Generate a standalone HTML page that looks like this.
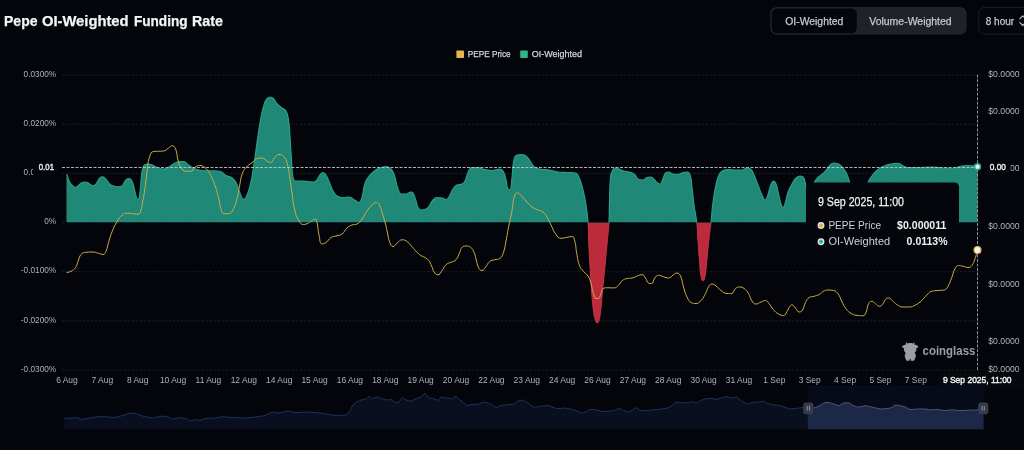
<!DOCTYPE html>
<html lang="en">
<head>
<meta charset="utf-8">
<title>Pepe OI-Weighted Funding Rate</title>
<style>
html,body{margin:0;padding:0;background:#03050a;}
body{width:1024px;height:450px;overflow:hidden;position:relative;font-family:"Liberation Sans",sans-serif;}
svg{position:absolute;left:0;top:0;display:block;will-change:transform;}
svg text{font-family:"Liberation Sans",sans-serif;white-space:pre;}
.ax text{font-size:9.5px;fill:#b0b3b8;}
.grid line{stroke:#1b1e24;stroke-width:1;stroke-dasharray:2.5 1.6;}
.med{stroke-width:0.25px;paint-order:stroke;}
.med4{stroke-width:0.45px;paint-order:stroke;}
</style>
</head>
<body>
<svg width="1024" height="450" viewBox="0 0 1024 450">
<defs>
<pattern id="dots" width="3" height="3" patternUnits="userSpaceOnUse">
<g fill="#2ca892" opacity="0.6"><circle cx="0.75" cy="0.75" r="0.5"/><circle cx="2.25" cy="2.25" r="0.5"/></g>
</pattern>
<clipPath id="pos"><rect x="0" y="0" width="1024" height="222.45"/></clipPath>
<clipPath id="neg"><rect x="587" y="222.45" width="23" height="120"/><rect x="695.5" y="222.45" width="16.5" height="80"/></clipPath>
</defs>

<!-- header -->
<text y="25.75" font-size="15" font-weight="700" fill="#f4f5f7" stroke="#f4f5f7" stroke-width="0.25"><tspan x="4.00" textLength="33.50" lengthAdjust="spacingAndGlyphs">Pepe</tspan> <tspan x="41.90" textLength="86.70" lengthAdjust="spacingAndGlyphs">OI-Weighted</tspan> <tspan x="133.90" textLength="53.70" lengthAdjust="spacingAndGlyphs">Funding</tspan> <tspan x="192.00" textLength="31.00" lengthAdjust="spacingAndGlyphs">Rate</tspan></text>
<rect x="770.25" y="6.9" width="196.4" height="27.85" rx="6.5" fill="#1f2229"/>
<rect x="771.75" y="8.4" width="85" height="24.85" rx="5.2" fill="#03050a"/>
<rect x="978.75" y="7.4" width="60" height="26.85" rx="6" fill="#04060b" stroke="#1e2128" stroke-width="1"/>
<text x="785.25" y="24.60" font-size="10.8" font-weight="400" fill="#c6c8cc" stroke="#c6c8cc" class="med" textLength="58.10" lengthAdjust="spacingAndGlyphs">OI-Weighted</text><text x="869.25" y="24.60" font-size="10.8" font-weight="400" fill="#c6c8cc" stroke="#c6c8cc" class="med" textLength="82.40" lengthAdjust="spacingAndGlyphs">Volume-Weighted</text><text x="985.75" y="24.60" font-size="10.8" font-weight="400" fill="#c6c8cc" stroke="#c6c8cc" class="med" textLength="28.40" lengthAdjust="spacingAndGlyphs">8 hour</text>
<path d="M1019.9 18.700L1022.800 15.800L1025.700 18.700M1019.900 22.600L1022.800 25.500L1025.700 22.600" fill="none" stroke="#b9bbc0" stroke-width="1.2" stroke-linecap="round" stroke-linejoin="round"/>

<!-- grid + axes -->
<g class="grid"><line x1="62" x2="981.5" y1="75.10" y2="75.10"/><line x1="62" x2="981.5" y1="124.25" y2="124.25"/><line x1="62" x2="981.5" y1="173.40" y2="173.40"/><line x1="62" x2="981.5" y1="271.70" y2="271.70"/><line x1="62" x2="981.5" y1="320.85" y2="320.85"/><line x1="62" x2="981.5" y1="370.00" y2="370.00"/><line x1="62" x2="66.3" y1="222.55" y2="222.55"/><line x1="978.5" x2="981.5" y1="222.55" y2="222.55"/></g>
<rect x="937.9" y="371.6" width="86.1" height="17.1" rx="2" fill="#06080d"/>
<g class="ax"><text transform="translate(56.20 76.85) scale(0.87 1)" text-anchor="end">0.0300%</text><text transform="translate(56.20 126.00) scale(0.87 1)" text-anchor="end">0.0200%</text><text transform="translate(56.20 175.15) scale(0.87 1)" text-anchor="end">0.0100%</text><text transform="translate(56.20 224.30) scale(0.87 1)" text-anchor="end">0%</text><text transform="translate(56.20 273.45) scale(0.87 1)" text-anchor="end">-0.0100%</text><text transform="translate(56.20 322.60) scale(0.87 1)" text-anchor="end">-0.0200%</text><text transform="translate(56.20 371.75) scale(0.87 1)" text-anchor="end">-0.0300%</text><text transform="translate(66.95 383.05) scale(0.89 1)" text-anchor="middle">6 Aug</text><text transform="translate(102.32 383.05) scale(0.89 1)" text-anchor="middle">7 Aug</text><text transform="translate(137.69 383.05) scale(0.89 1)" text-anchor="middle">8 Aug</text><text transform="translate(173.06 383.05) scale(0.89 1)" text-anchor="middle">10 Aug</text><text transform="translate(208.43 383.05) scale(0.89 1)" text-anchor="middle">11 Aug</text><text transform="translate(243.80 383.05) scale(0.89 1)" text-anchor="middle">12 Aug</text><text transform="translate(279.17 383.05) scale(0.89 1)" text-anchor="middle">14 Aug</text><text transform="translate(314.54 383.05) scale(0.89 1)" text-anchor="middle">15 Aug</text><text transform="translate(349.91 383.05) scale(0.89 1)" text-anchor="middle">16 Aug</text><text transform="translate(385.28 383.05) scale(0.89 1)" text-anchor="middle">18 Aug</text><text transform="translate(420.65 383.05) scale(0.89 1)" text-anchor="middle">19 Aug</text><text transform="translate(456.02 383.05) scale(0.89 1)" text-anchor="middle">20 Aug</text><text transform="translate(491.39 383.05) scale(0.89 1)" text-anchor="middle">22 Aug</text><text transform="translate(526.76 383.05) scale(0.89 1)" text-anchor="middle">23 Aug</text><text transform="translate(562.13 383.05) scale(0.89 1)" text-anchor="middle">24 Aug</text><text transform="translate(597.50 383.05) scale(0.89 1)" text-anchor="middle">26 Aug</text><text transform="translate(632.87 383.05) scale(0.89 1)" text-anchor="middle">27 Aug</text><text transform="translate(668.24 383.05) scale(0.89 1)" text-anchor="middle">28 Aug</text><text transform="translate(703.61 383.05) scale(0.89 1)" text-anchor="middle">30 Aug</text><text transform="translate(738.98 383.05) scale(0.89 1)" text-anchor="middle">31 Aug</text><text transform="translate(774.35 383.05) scale(0.89 1)" text-anchor="middle">1 Sep</text><text transform="translate(809.72 383.05) scale(0.89 1)" text-anchor="middle">3 Sep</text><text transform="translate(845.09 383.05) scale(0.89 1)" text-anchor="middle">4 Sep</text><text transform="translate(880.46 383.05) scale(0.89 1)" text-anchor="middle">5 Sep</text><text transform="translate(915.83 383.05) scale(0.89 1)" text-anchor="middle">7 Sep</text><text transform="translate(988.30 77.10) scale(0.912 1)">$0.0000</text><text transform="translate(988.30 113.70) scale(0.912 1)">$0.0000</text><text transform="translate(988.30 170.90) scale(0.912 1)">$0.0000</text><text transform="translate(988.30 229.45) scale(0.912 1)">$0.0000</text><text transform="translate(988.30 286.70) scale(0.912 1)">$0.0000</text><text transform="translate(988.30 344.10) scale(0.912 1)">$0.0000</text><text transform="translate(988.30 372.20) scale(0.912 1)">$0.0000</text></g>

<!-- funding area -->
<g clip-path="url(#pos)">
<path d="M66.50 174.60C66.50 174.60 67.05 174.90 67.25 175.40C68.35 178.10 67.87 178.35 69.10 181.00C70.04 183.03 70.03 183.19 71.60 184.75C73.18 186.32 73.48 187.25 75.40 187.25C76.93 187.25 77.03 186.43 78.50 185.40C80.13 184.26 79.89 183.83 81.60 182.90C83.01 182.13 83.17 182.00 84.75 182.00C86.33 182.00 86.44 182.20 87.90 182.90C89.57 183.70 89.35 184.16 91.00 185.00C92.15 185.59 92.34 185.75 93.50 185.75C94.84 185.75 95.07 185.22 96.00 184.10C97.57 182.22 97.11 181.83 98.50 179.75C99.31 178.53 99.27 178.36 100.40 177.50C101.15 176.93 101.34 176.90 102.25 176.90C103.51 176.90 103.74 177.07 104.75 177.90C106.24 179.12 106.00 179.45 107.25 181.00C108.50 182.55 108.23 182.88 109.75 184.10C111.35 185.38 111.51 185.40 113.50 186.00C115.89 186.72 116.00 186.75 118.50 186.75C120.05 186.75 120.42 186.75 121.60 186.40C123.22 185.92 122.88 184.67 124.10 182.90C125.08 181.47 124.80 181.18 126.00 180.00C127.00 179.03 127.22 178.60 128.50 178.60C129.72 178.60 130.13 178.78 131.00 179.75C132.33 181.23 132.24 181.52 132.90 183.50C134.11 187.14 133.79 187.26 134.75 191.00C135.64 194.46 135.43 194.56 136.60 197.90C137.00 199.06 137.27 200.00 137.90 200.00C138.52 200.00 138.85 199.07 139.10 197.90C140.10 193.32 139.89 193.22 140.40 188.50C141.14 181.64 140.77 181.59 141.60 174.75C142.02 171.29 141.87 171.18 142.90 167.90C143.44 166.18 143.38 165.37 144.75 164.75C146.18 164.10 146.65 164.10 148.50 164.10C150.73 164.10 150.77 164.57 152.90 165.40C155.14 166.27 154.98 166.71 157.25 167.50C160.28 168.56 160.42 169.10 163.50 169.10C166.05 169.10 166.13 168.44 168.50 167.25C171.13 165.94 170.89 165.47 173.50 164.10C176.19 162.69 176.20 161.98 179.10 161.70C181.20 161.50 181.53 161.50 183.50 161.50C186.23 161.50 185.94 163.35 188.50 165.00C191.56 166.97 191.39 167.46 194.75 168.75C198.89 170.34 199.07 170.75 203.50 170.75C208.44 170.75 208.51 170.75 213.50 170.75C216.63 170.75 216.92 170.75 219.75 171.25C223.17 171.85 222.69 173.71 226.00 175.50C228.94 177.09 229.58 176.13 232.25 178.00C234.58 179.63 234.67 179.93 236.00 182.50C238.42 187.18 237.57 187.64 239.75 192.50C241.32 196.01 241.26 199.25 243.50 199.25C244.39 199.25 245.36 198.84 246.00 197.50C248.76 191.71 248.70 191.39 250.30 185.00C252.45 176.39 252.07 176.28 253.50 167.50C254.92 158.78 254.75 158.75 256.00 150.00C257.25 141.25 257.16 141.24 258.50 132.50C259.66 124.99 259.51 124.95 261.00 117.50C262.26 111.20 262.05 111.09 264.00 105.00C265.05 101.72 264.92 101.31 267.00 98.75C268.17 97.31 268.78 97.00 270.50 97.00C272.03 97.00 272.32 97.53 273.50 98.75C275.57 100.90 274.95 101.52 277.00 103.75C279.20 106.15 279.45 105.94 282.00 108.00C283.95 109.57 284.87 108.91 286.00 111.00C288.12 114.91 287.81 115.40 288.50 120.00C289.81 128.65 289.34 128.74 290.00 137.50C290.84 148.74 290.66 148.76 291.50 160.00C292.16 168.76 291.50 169.07 293.00 177.50C293.37 179.57 293.66 181.00 295.50 181.00C298.91 181.00 299.51 181.00 303.50 181.00C307.76 181.00 307.78 182.00 312.00 182.00C314.03 182.00 314.54 182.00 316.00 181.00C318.54 179.25 317.73 177.76 320.00 175.00C321.23 173.51 321.50 172.50 323.00 172.50C324.50 172.50 325.01 173.37 326.00 175.00C328.51 179.12 328.06 179.47 330.00 184.00C331.06 186.47 330.65 186.69 332.00 189.00C334.15 192.69 333.89 193.53 337.00 196.00C338.89 197.50 339.44 197.50 342.00 197.50C345.69 197.50 345.98 197.00 349.50 197.00C352.23 197.00 351.98 198.54 354.50 200.00C356.73 201.29 357.24 202.50 359.00 202.50C360.99 202.50 361.14 200.25 362.00 197.50C363.89 191.50 362.68 191.06 364.50 185.00C365.68 181.06 365.63 180.82 368.00 177.50C370.63 173.82 370.90 173.77 374.50 171.00C377.40 168.77 377.60 168.83 381.00 167.50C383.35 166.58 383.61 166.50 386.00 166.50C388.61 166.50 389.23 167.02 391.00 169.00C393.48 171.77 393.21 172.32 394.50 176.00C396.71 182.32 395.59 182.81 398.00 189.00C399.09 191.81 399.20 194.00 401.50 194.00C403.20 194.00 403.84 194.00 406.00 194.00C408.59 194.00 408.53 192.00 411.00 192.00C412.03 192.00 412.48 192.07 413.00 193.00C414.98 196.57 414.61 196.96 416.00 201.00C417.11 204.21 416.41 204.64 418.00 207.50C418.91 209.14 419.27 210.00 421.00 210.00C423.27 210.00 423.84 210.00 426.00 209.00C428.09 208.03 427.99 207.44 429.50 205.50C431.49 202.94 430.82 202.32 433.00 200.00C434.57 198.32 434.82 197.50 437.00 197.50C439.32 197.50 439.57 197.50 442.00 198.00C444.07 198.43 444.26 199.50 446.00 199.50C448.01 199.50 448.14 198.03 449.50 196.00C451.64 192.78 450.82 192.19 453.00 189.00C454.57 186.69 454.63 186.11 457.00 185.00C459.13 184.00 459.82 185.00 462.00 184.00C463.82 183.17 464.04 182.84 465.00 181.00C467.04 177.09 465.95 176.45 468.00 172.50C469.45 169.70 469.47 167.50 472.00 167.50C473.97 167.50 474.55 167.50 477.00 167.50C480.80 167.50 480.70 168.74 484.50 169.50C488.20 170.24 488.27 170.50 492.00 170.50C495.77 170.50 495.90 169.00 499.50 169.00C501.40 169.00 502.03 169.36 503.00 171.00C505.28 174.86 504.73 175.44 506.00 180.00C507.23 184.44 506.37 186.76 508.00 189.00C508.37 189.50 509.71 189.50 510.00 189.50C511.71 189.50 511.18 183.53 512.00 177.50C513.18 168.78 512.12 168.45 514.00 160.00C514.62 157.20 514.85 155.58 517.00 155.00C518.85 154.50 519.63 154.50 522.00 154.50C524.63 154.50 524.97 155.20 527.00 157.00C529.47 159.20 528.96 159.78 531.00 162.50C532.71 164.78 532.31 165.33 534.50 167.00C536.56 168.58 536.88 168.48 539.50 169.00C544.38 169.98 544.55 169.20 549.50 170.00C553.80 170.70 553.69 171.56 558.00 172.00C562.94 172.50 563.00 172.21 568.00 172.50C571.75 172.71 572.37 172.50 575.50 173.00C577.87 173.38 577.86 174.93 579.00 177.50C581.61 183.43 581.38 183.65 583.00 190.00C584.88 197.40 584.84 197.45 586.00 205.00C587.34 213.67 587.34 213.70 588.00 222.45C588.69 231.70 588.27 231.73 588.70 241.00C589.27 253.50 589.28 253.50 590.00 266.00C590.73 278.50 590.64 278.51 591.60 291.00C592.29 300.01 592.16 300.04 593.30 309.00C594.01 314.54 593.80 314.71 595.30 320.00C595.77 321.66 596.25 322.90 597.25 322.90C598.10 322.90 598.64 321.91 599.00 320.50C600.47 314.71 600.18 314.53 600.90 308.50C601.93 299.78 601.66 299.75 602.50 291.00C603.71 278.50 603.80 278.50 605.00 266.00C606.20 253.50 606.15 253.50 607.30 241.00C608.15 231.73 608.53 231.74 609.00 222.45C609.50 212.49 609.17 212.47 609.50 202.50C609.92 190.00 609.50 189.86 610.50 177.50C610.83 173.36 611.15 173.02 613.00 169.50C613.65 168.27 614.17 168.00 615.50 168.00C618.67 168.00 618.67 169.51 622.00 170.50C625.42 171.51 625.58 171.00 629.00 172.00C631.58 172.75 631.90 172.42 634.00 174.00C636.90 176.17 636.08 178.58 639.00 179.50C640.58 180.00 641.16 180.00 643.00 180.00C645.16 180.00 644.86 178.17 647.00 177.50C648.61 177.00 648.92 177.00 650.50 177.00C652.42 177.00 652.37 178.11 654.00 179.50C655.87 181.11 655.56 181.54 657.50 183.00C658.56 183.79 659.09 184.00 660.00 184.00C661.59 184.00 661.45 182.10 662.50 180.00C664.20 176.60 663.38 175.41 665.50 173.00C666.38 172.00 667.03 172.00 668.50 172.00C670.78 172.00 670.65 173.51 673.00 174.00C675.40 174.50 675.59 174.50 678.00 174.50C680.59 174.50 680.43 173.17 683.00 172.50C684.93 172.00 685.29 172.00 687.00 172.00C688.79 172.00 689.37 173.05 690.00 175.00C691.87 180.80 691.16 181.23 692.00 187.50C693.16 196.23 692.81 196.28 694.00 205.00C695.19 213.75 695.78 213.68 696.75 222.45C697.78 231.68 697.34 231.73 698.00 241.00C698.71 251.00 698.64 251.01 699.50 261.00C700.14 268.51 699.71 268.63 701.00 276.00C701.46 278.63 702.00 281.00 703.00 281.00C704.00 281.00 704.53 278.63 705.00 276.00C706.53 267.38 706.07 267.26 707.00 258.50C708.07 248.51 707.89 248.49 709.00 238.50C709.89 230.46 710.11 230.49 711.00 222.45C712.11 212.49 711.67 212.43 713.00 202.50C714.17 193.71 714.11 193.66 716.00 185.00C717.11 179.91 716.78 179.60 719.00 175.00C720.28 172.35 720.56 171.68 723.00 170.50C725.06 169.50 725.47 169.50 728.00 169.50C731.72 169.50 731.75 170.00 735.50 170.00C738.75 170.00 738.86 170.00 742.00 170.00C744.61 170.00 744.46 168.00 747.00 168.00C748.71 168.00 749.30 168.00 750.50 169.00C752.80 170.91 752.53 171.86 754.00 175.00C756.28 179.86 756.00 180.00 758.00 185.00C760.00 190.00 759.73 190.13 762.00 195.00C763.23 197.63 763.48 200.00 765.00 200.00C766.23 200.00 766.64 198.18 767.50 196.00C769.39 191.18 768.58 190.81 770.50 186.00C771.58 183.31 771.85 181.00 773.50 181.00C774.60 181.00 775.31 182.21 776.00 184.00C777.81 188.71 777.25 189.00 778.50 194.00C779.75 199.00 779.38 199.15 781.00 204.00C781.63 205.90 782.00 207.50 783.00 207.50C784.00 207.50 784.37 205.90 785.00 204.00C786.87 198.40 786.05 198.09 788.00 192.50C789.55 188.09 789.74 188.10 792.00 184.00C793.74 180.85 793.47 180.38 796.00 178.00C797.72 176.38 798.27 176.00 800.50 176.00C802.02 176.00 802.67 176.18 803.50 177.50C805.17 180.18 804.49 180.75 805.50 184.00C806.74 188.00 806.08 192.00 808.00 192.00C808.83 192.00 810.04 191.45 811.00 190.00C813.17 186.70 812.27 186.04 814.25 182.50C815.77 179.79 815.81 179.69 818.00 177.50C820.81 174.69 821.44 175.31 824.25 172.50C827.06 169.69 826.48 169.10 829.25 166.25C831.10 164.35 831.14 163.00 833.50 163.00C835.51 163.00 836.03 163.00 838.00 163.75C840.53 164.71 840.54 165.36 842.50 167.50C844.54 169.73 844.67 169.78 846.00 172.50C848.04 176.66 847.86 176.80 849.25 181.25C851.36 188.05 850.37 188.46 853.00 195.00C854.74 199.33 855.38 203.00 858.00 203.00C860.38 203.00 861.13 199.83 863.00 196.00C866.13 189.58 865.10 189.06 868.00 182.50C869.47 179.18 869.54 179.12 871.75 176.25C874.54 172.62 874.43 172.29 878.00 169.50C881.30 166.92 881.57 167.01 885.50 165.50C889.07 164.13 889.22 164.43 893.00 163.75C895.47 163.31 895.63 163.25 898.00 163.25C900.63 163.25 900.43 164.66 903.00 165.75C905.43 166.78 905.40 167.50 908.00 167.50C912.90 167.50 913.00 167.50 918.00 167.50C924.25 167.50 924.26 167.00 930.50 167.00C936.76 167.00 936.74 167.69 943.00 168.00C947.99 168.25 948.07 168.25 953.00 168.25C956.82 168.25 956.69 166.95 960.50 166.25C964.19 165.57 964.25 165.50 968.00 165.50C972.75 165.50 977.50 166.25 977.50 166.25L977.50 222.45 L66.50 222.45 Z" fill="#1e8474"/>
<path d="M66.50 174.60C66.50 174.60 67.05 174.90 67.25 175.40C68.35 178.10 67.87 178.35 69.10 181.00C70.04 183.03 70.03 183.19 71.60 184.75C73.18 186.32 73.48 187.25 75.40 187.25C76.93 187.25 77.03 186.43 78.50 185.40C80.13 184.26 79.89 183.83 81.60 182.90C83.01 182.13 83.17 182.00 84.75 182.00C86.33 182.00 86.44 182.20 87.90 182.90C89.57 183.70 89.35 184.16 91.00 185.00C92.15 185.59 92.34 185.75 93.50 185.75C94.84 185.75 95.07 185.22 96.00 184.10C97.57 182.22 97.11 181.83 98.50 179.75C99.31 178.53 99.27 178.36 100.40 177.50C101.15 176.93 101.34 176.90 102.25 176.90C103.51 176.90 103.74 177.07 104.75 177.90C106.24 179.12 106.00 179.45 107.25 181.00C108.50 182.55 108.23 182.88 109.75 184.10C111.35 185.38 111.51 185.40 113.50 186.00C115.89 186.72 116.00 186.75 118.50 186.75C120.05 186.75 120.42 186.75 121.60 186.40C123.22 185.92 122.88 184.67 124.10 182.90C125.08 181.47 124.80 181.18 126.00 180.00C127.00 179.03 127.22 178.60 128.50 178.60C129.72 178.60 130.13 178.78 131.00 179.75C132.33 181.23 132.24 181.52 132.90 183.50C134.11 187.14 133.79 187.26 134.75 191.00C135.64 194.46 135.43 194.56 136.60 197.90C137.00 199.06 137.27 200.00 137.90 200.00C138.52 200.00 138.85 199.07 139.10 197.90C140.10 193.32 139.89 193.22 140.40 188.50C141.14 181.64 140.77 181.59 141.60 174.75C142.02 171.29 141.87 171.18 142.90 167.90C143.44 166.18 143.38 165.37 144.75 164.75C146.18 164.10 146.65 164.10 148.50 164.10C150.73 164.10 150.77 164.57 152.90 165.40C155.14 166.27 154.98 166.71 157.25 167.50C160.28 168.56 160.42 169.10 163.50 169.10C166.05 169.10 166.13 168.44 168.50 167.25C171.13 165.94 170.89 165.47 173.50 164.10C176.19 162.69 176.20 161.98 179.10 161.70C181.20 161.50 181.53 161.50 183.50 161.50C186.23 161.50 185.94 163.35 188.50 165.00C191.56 166.97 191.39 167.46 194.75 168.75C198.89 170.34 199.07 170.75 203.50 170.75C208.44 170.75 208.51 170.75 213.50 170.75C216.63 170.75 216.92 170.75 219.75 171.25C223.17 171.85 222.69 173.71 226.00 175.50C228.94 177.09 229.58 176.13 232.25 178.00C234.58 179.63 234.67 179.93 236.00 182.50C238.42 187.18 237.57 187.64 239.75 192.50C241.32 196.01 241.26 199.25 243.50 199.25C244.39 199.25 245.36 198.84 246.00 197.50C248.76 191.71 248.70 191.39 250.30 185.00C252.45 176.39 252.07 176.28 253.50 167.50C254.92 158.78 254.75 158.75 256.00 150.00C257.25 141.25 257.16 141.24 258.50 132.50C259.66 124.99 259.51 124.95 261.00 117.50C262.26 111.20 262.05 111.09 264.00 105.00C265.05 101.72 264.92 101.31 267.00 98.75C268.17 97.31 268.78 97.00 270.50 97.00C272.03 97.00 272.32 97.53 273.50 98.75C275.57 100.90 274.95 101.52 277.00 103.75C279.20 106.15 279.45 105.94 282.00 108.00C283.95 109.57 284.87 108.91 286.00 111.00C288.12 114.91 287.81 115.40 288.50 120.00C289.81 128.65 289.34 128.74 290.00 137.50C290.84 148.74 290.66 148.76 291.50 160.00C292.16 168.76 291.50 169.07 293.00 177.50C293.37 179.57 293.66 181.00 295.50 181.00C298.91 181.00 299.51 181.00 303.50 181.00C307.76 181.00 307.78 182.00 312.00 182.00C314.03 182.00 314.54 182.00 316.00 181.00C318.54 179.25 317.73 177.76 320.00 175.00C321.23 173.51 321.50 172.50 323.00 172.50C324.50 172.50 325.01 173.37 326.00 175.00C328.51 179.12 328.06 179.47 330.00 184.00C331.06 186.47 330.65 186.69 332.00 189.00C334.15 192.69 333.89 193.53 337.00 196.00C338.89 197.50 339.44 197.50 342.00 197.50C345.69 197.50 345.98 197.00 349.50 197.00C352.23 197.00 351.98 198.54 354.50 200.00C356.73 201.29 357.24 202.50 359.00 202.50C360.99 202.50 361.14 200.25 362.00 197.50C363.89 191.50 362.68 191.06 364.50 185.00C365.68 181.06 365.63 180.82 368.00 177.50C370.63 173.82 370.90 173.77 374.50 171.00C377.40 168.77 377.60 168.83 381.00 167.50C383.35 166.58 383.61 166.50 386.00 166.50C388.61 166.50 389.23 167.02 391.00 169.00C393.48 171.77 393.21 172.32 394.50 176.00C396.71 182.32 395.59 182.81 398.00 189.00C399.09 191.81 399.20 194.00 401.50 194.00C403.20 194.00 403.84 194.00 406.00 194.00C408.59 194.00 408.53 192.00 411.00 192.00C412.03 192.00 412.48 192.07 413.00 193.00C414.98 196.57 414.61 196.96 416.00 201.00C417.11 204.21 416.41 204.64 418.00 207.50C418.91 209.14 419.27 210.00 421.00 210.00C423.27 210.00 423.84 210.00 426.00 209.00C428.09 208.03 427.99 207.44 429.50 205.50C431.49 202.94 430.82 202.32 433.00 200.00C434.57 198.32 434.82 197.50 437.00 197.50C439.32 197.50 439.57 197.50 442.00 198.00C444.07 198.43 444.26 199.50 446.00 199.50C448.01 199.50 448.14 198.03 449.50 196.00C451.64 192.78 450.82 192.19 453.00 189.00C454.57 186.69 454.63 186.11 457.00 185.00C459.13 184.00 459.82 185.00 462.00 184.00C463.82 183.17 464.04 182.84 465.00 181.00C467.04 177.09 465.95 176.45 468.00 172.50C469.45 169.70 469.47 167.50 472.00 167.50C473.97 167.50 474.55 167.50 477.00 167.50C480.80 167.50 480.70 168.74 484.50 169.50C488.20 170.24 488.27 170.50 492.00 170.50C495.77 170.50 495.90 169.00 499.50 169.00C501.40 169.00 502.03 169.36 503.00 171.00C505.28 174.86 504.73 175.44 506.00 180.00C507.23 184.44 506.37 186.76 508.00 189.00C508.37 189.50 509.71 189.50 510.00 189.50C511.71 189.50 511.18 183.53 512.00 177.50C513.18 168.78 512.12 168.45 514.00 160.00C514.62 157.20 514.85 155.58 517.00 155.00C518.85 154.50 519.63 154.50 522.00 154.50C524.63 154.50 524.97 155.20 527.00 157.00C529.47 159.20 528.96 159.78 531.00 162.50C532.71 164.78 532.31 165.33 534.50 167.00C536.56 168.58 536.88 168.48 539.50 169.00C544.38 169.98 544.55 169.20 549.50 170.00C553.80 170.70 553.69 171.56 558.00 172.00C562.94 172.50 563.00 172.21 568.00 172.50C571.75 172.71 572.37 172.50 575.50 173.00C577.87 173.38 577.86 174.93 579.00 177.50C581.61 183.43 581.38 183.65 583.00 190.00C584.88 197.40 584.84 197.45 586.00 205.00C587.34 213.67 587.34 213.70 588.00 222.45C588.69 231.70 588.27 231.73 588.70 241.00C589.27 253.50 589.28 253.50 590.00 266.00C590.73 278.50 590.64 278.51 591.60 291.00C592.29 300.01 592.16 300.04 593.30 309.00C594.01 314.54 593.80 314.71 595.30 320.00C595.77 321.66 596.25 322.90 597.25 322.90C598.10 322.90 598.64 321.91 599.00 320.50C600.47 314.71 600.18 314.53 600.90 308.50C601.93 299.78 601.66 299.75 602.50 291.00C603.71 278.50 603.80 278.50 605.00 266.00C606.20 253.50 606.15 253.50 607.30 241.00C608.15 231.73 608.53 231.74 609.00 222.45C609.50 212.49 609.17 212.47 609.50 202.50C609.92 190.00 609.50 189.86 610.50 177.50C610.83 173.36 611.15 173.02 613.00 169.50C613.65 168.27 614.17 168.00 615.50 168.00C618.67 168.00 618.67 169.51 622.00 170.50C625.42 171.51 625.58 171.00 629.00 172.00C631.58 172.75 631.90 172.42 634.00 174.00C636.90 176.17 636.08 178.58 639.00 179.50C640.58 180.00 641.16 180.00 643.00 180.00C645.16 180.00 644.86 178.17 647.00 177.50C648.61 177.00 648.92 177.00 650.50 177.00C652.42 177.00 652.37 178.11 654.00 179.50C655.87 181.11 655.56 181.54 657.50 183.00C658.56 183.79 659.09 184.00 660.00 184.00C661.59 184.00 661.45 182.10 662.50 180.00C664.20 176.60 663.38 175.41 665.50 173.00C666.38 172.00 667.03 172.00 668.50 172.00C670.78 172.00 670.65 173.51 673.00 174.00C675.40 174.50 675.59 174.50 678.00 174.50C680.59 174.50 680.43 173.17 683.00 172.50C684.93 172.00 685.29 172.00 687.00 172.00C688.79 172.00 689.37 173.05 690.00 175.00C691.87 180.80 691.16 181.23 692.00 187.50C693.16 196.23 692.81 196.28 694.00 205.00C695.19 213.75 695.78 213.68 696.75 222.45C697.78 231.68 697.34 231.73 698.00 241.00C698.71 251.00 698.64 251.01 699.50 261.00C700.14 268.51 699.71 268.63 701.00 276.00C701.46 278.63 702.00 281.00 703.00 281.00C704.00 281.00 704.53 278.63 705.00 276.00C706.53 267.38 706.07 267.26 707.00 258.50C708.07 248.51 707.89 248.49 709.00 238.50C709.89 230.46 710.11 230.49 711.00 222.45C712.11 212.49 711.67 212.43 713.00 202.50C714.17 193.71 714.11 193.66 716.00 185.00C717.11 179.91 716.78 179.60 719.00 175.00C720.28 172.35 720.56 171.68 723.00 170.50C725.06 169.50 725.47 169.50 728.00 169.50C731.72 169.50 731.75 170.00 735.50 170.00C738.75 170.00 738.86 170.00 742.00 170.00C744.61 170.00 744.46 168.00 747.00 168.00C748.71 168.00 749.30 168.00 750.50 169.00C752.80 170.91 752.53 171.86 754.00 175.00C756.28 179.86 756.00 180.00 758.00 185.00C760.00 190.00 759.73 190.13 762.00 195.00C763.23 197.63 763.48 200.00 765.00 200.00C766.23 200.00 766.64 198.18 767.50 196.00C769.39 191.18 768.58 190.81 770.50 186.00C771.58 183.31 771.85 181.00 773.50 181.00C774.60 181.00 775.31 182.21 776.00 184.00C777.81 188.71 777.25 189.00 778.50 194.00C779.75 199.00 779.38 199.15 781.00 204.00C781.63 205.90 782.00 207.50 783.00 207.50C784.00 207.50 784.37 205.90 785.00 204.00C786.87 198.40 786.05 198.09 788.00 192.50C789.55 188.09 789.74 188.10 792.00 184.00C793.74 180.85 793.47 180.38 796.00 178.00C797.72 176.38 798.27 176.00 800.50 176.00C802.02 176.00 802.67 176.18 803.50 177.50C805.17 180.18 804.49 180.75 805.50 184.00C806.74 188.00 806.08 192.00 808.00 192.00C808.83 192.00 810.04 191.45 811.00 190.00C813.17 186.70 812.27 186.04 814.25 182.50C815.77 179.79 815.81 179.69 818.00 177.50C820.81 174.69 821.44 175.31 824.25 172.50C827.06 169.69 826.48 169.10 829.25 166.25C831.10 164.35 831.14 163.00 833.50 163.00C835.51 163.00 836.03 163.00 838.00 163.75C840.53 164.71 840.54 165.36 842.50 167.50C844.54 169.73 844.67 169.78 846.00 172.50C848.04 176.66 847.86 176.80 849.25 181.25C851.36 188.05 850.37 188.46 853.00 195.00C854.74 199.33 855.38 203.00 858.00 203.00C860.38 203.00 861.13 199.83 863.00 196.00C866.13 189.58 865.10 189.06 868.00 182.50C869.47 179.18 869.54 179.12 871.75 176.25C874.54 172.62 874.43 172.29 878.00 169.50C881.30 166.92 881.57 167.01 885.50 165.50C889.07 164.13 889.22 164.43 893.00 163.75C895.47 163.31 895.63 163.25 898.00 163.25C900.63 163.25 900.43 164.66 903.00 165.75C905.43 166.78 905.40 167.50 908.00 167.50C912.90 167.50 913.00 167.50 918.00 167.50C924.25 167.50 924.26 167.00 930.50 167.00C936.76 167.00 936.74 167.69 943.00 168.00C947.99 168.25 948.07 168.25 953.00 168.25C956.82 168.25 956.69 166.95 960.50 166.25C964.19 165.57 964.25 165.50 968.00 165.50C972.75 165.50 977.50 166.25 977.50 166.25L977.50 222.45 L66.50 222.45 Z" fill="url(#dots)"/>
<path d="M66.50 174.60C66.50 174.60 67.05 174.90 67.25 175.40C68.35 178.10 67.87 178.35 69.10 181.00C70.04 183.03 70.03 183.19 71.60 184.75C73.18 186.32 73.48 187.25 75.40 187.25C76.93 187.25 77.03 186.43 78.50 185.40C80.13 184.26 79.89 183.83 81.60 182.90C83.01 182.13 83.17 182.00 84.75 182.00C86.33 182.00 86.44 182.20 87.90 182.90C89.57 183.70 89.35 184.16 91.00 185.00C92.15 185.59 92.34 185.75 93.50 185.75C94.84 185.75 95.07 185.22 96.00 184.10C97.57 182.22 97.11 181.83 98.50 179.75C99.31 178.53 99.27 178.36 100.40 177.50C101.15 176.93 101.34 176.90 102.25 176.90C103.51 176.90 103.74 177.07 104.75 177.90C106.24 179.12 106.00 179.45 107.25 181.00C108.50 182.55 108.23 182.88 109.75 184.10C111.35 185.38 111.51 185.40 113.50 186.00C115.89 186.72 116.00 186.75 118.50 186.75C120.05 186.75 120.42 186.75 121.60 186.40C123.22 185.92 122.88 184.67 124.10 182.90C125.08 181.47 124.80 181.18 126.00 180.00C127.00 179.03 127.22 178.60 128.50 178.60C129.72 178.60 130.13 178.78 131.00 179.75C132.33 181.23 132.24 181.52 132.90 183.50C134.11 187.14 133.79 187.26 134.75 191.00C135.64 194.46 135.43 194.56 136.60 197.90C137.00 199.06 137.27 200.00 137.90 200.00C138.52 200.00 138.85 199.07 139.10 197.90C140.10 193.32 139.89 193.22 140.40 188.50C141.14 181.64 140.77 181.59 141.60 174.75C142.02 171.29 141.87 171.18 142.90 167.90C143.44 166.18 143.38 165.37 144.75 164.75C146.18 164.10 146.65 164.10 148.50 164.10C150.73 164.10 150.77 164.57 152.90 165.40C155.14 166.27 154.98 166.71 157.25 167.50C160.28 168.56 160.42 169.10 163.50 169.10C166.05 169.10 166.13 168.44 168.50 167.25C171.13 165.94 170.89 165.47 173.50 164.10C176.19 162.69 176.20 161.98 179.10 161.70C181.20 161.50 181.53 161.50 183.50 161.50C186.23 161.50 185.94 163.35 188.50 165.00C191.56 166.97 191.39 167.46 194.75 168.75C198.89 170.34 199.07 170.75 203.50 170.75C208.44 170.75 208.51 170.75 213.50 170.75C216.63 170.75 216.92 170.75 219.75 171.25C223.17 171.85 222.69 173.71 226.00 175.50C228.94 177.09 229.58 176.13 232.25 178.00C234.58 179.63 234.67 179.93 236.00 182.50C238.42 187.18 237.57 187.64 239.75 192.50C241.32 196.01 241.26 199.25 243.50 199.25C244.39 199.25 245.36 198.84 246.00 197.50C248.76 191.71 248.70 191.39 250.30 185.00C252.45 176.39 252.07 176.28 253.50 167.50C254.92 158.78 254.75 158.75 256.00 150.00C257.25 141.25 257.16 141.24 258.50 132.50C259.66 124.99 259.51 124.95 261.00 117.50C262.26 111.20 262.05 111.09 264.00 105.00C265.05 101.72 264.92 101.31 267.00 98.75C268.17 97.31 268.78 97.00 270.50 97.00C272.03 97.00 272.32 97.53 273.50 98.75C275.57 100.90 274.95 101.52 277.00 103.75C279.20 106.15 279.45 105.94 282.00 108.00C283.95 109.57 284.87 108.91 286.00 111.00C288.12 114.91 287.81 115.40 288.50 120.00C289.81 128.65 289.34 128.74 290.00 137.50C290.84 148.74 290.66 148.76 291.50 160.00C292.16 168.76 291.50 169.07 293.00 177.50C293.37 179.57 293.66 181.00 295.50 181.00C298.91 181.00 299.51 181.00 303.50 181.00C307.76 181.00 307.78 182.00 312.00 182.00C314.03 182.00 314.54 182.00 316.00 181.00C318.54 179.25 317.73 177.76 320.00 175.00C321.23 173.51 321.50 172.50 323.00 172.50C324.50 172.50 325.01 173.37 326.00 175.00C328.51 179.12 328.06 179.47 330.00 184.00C331.06 186.47 330.65 186.69 332.00 189.00C334.15 192.69 333.89 193.53 337.00 196.00C338.89 197.50 339.44 197.50 342.00 197.50C345.69 197.50 345.98 197.00 349.50 197.00C352.23 197.00 351.98 198.54 354.50 200.00C356.73 201.29 357.24 202.50 359.00 202.50C360.99 202.50 361.14 200.25 362.00 197.50C363.89 191.50 362.68 191.06 364.50 185.00C365.68 181.06 365.63 180.82 368.00 177.50C370.63 173.82 370.90 173.77 374.50 171.00C377.40 168.77 377.60 168.83 381.00 167.50C383.35 166.58 383.61 166.50 386.00 166.50C388.61 166.50 389.23 167.02 391.00 169.00C393.48 171.77 393.21 172.32 394.50 176.00C396.71 182.32 395.59 182.81 398.00 189.00C399.09 191.81 399.20 194.00 401.50 194.00C403.20 194.00 403.84 194.00 406.00 194.00C408.59 194.00 408.53 192.00 411.00 192.00C412.03 192.00 412.48 192.07 413.00 193.00C414.98 196.57 414.61 196.96 416.00 201.00C417.11 204.21 416.41 204.64 418.00 207.50C418.91 209.14 419.27 210.00 421.00 210.00C423.27 210.00 423.84 210.00 426.00 209.00C428.09 208.03 427.99 207.44 429.50 205.50C431.49 202.94 430.82 202.32 433.00 200.00C434.57 198.32 434.82 197.50 437.00 197.50C439.32 197.50 439.57 197.50 442.00 198.00C444.07 198.43 444.26 199.50 446.00 199.50C448.01 199.50 448.14 198.03 449.50 196.00C451.64 192.78 450.82 192.19 453.00 189.00C454.57 186.69 454.63 186.11 457.00 185.00C459.13 184.00 459.82 185.00 462.00 184.00C463.82 183.17 464.04 182.84 465.00 181.00C467.04 177.09 465.95 176.45 468.00 172.50C469.45 169.70 469.47 167.50 472.00 167.50C473.97 167.50 474.55 167.50 477.00 167.50C480.80 167.50 480.70 168.74 484.50 169.50C488.20 170.24 488.27 170.50 492.00 170.50C495.77 170.50 495.90 169.00 499.50 169.00C501.40 169.00 502.03 169.36 503.00 171.00C505.28 174.86 504.73 175.44 506.00 180.00C507.23 184.44 506.37 186.76 508.00 189.00C508.37 189.50 509.71 189.50 510.00 189.50C511.71 189.50 511.18 183.53 512.00 177.50C513.18 168.78 512.12 168.45 514.00 160.00C514.62 157.20 514.85 155.58 517.00 155.00C518.85 154.50 519.63 154.50 522.00 154.50C524.63 154.50 524.97 155.20 527.00 157.00C529.47 159.20 528.96 159.78 531.00 162.50C532.71 164.78 532.31 165.33 534.50 167.00C536.56 168.58 536.88 168.48 539.50 169.00C544.38 169.98 544.55 169.20 549.50 170.00C553.80 170.70 553.69 171.56 558.00 172.00C562.94 172.50 563.00 172.21 568.00 172.50C571.75 172.71 572.37 172.50 575.50 173.00C577.87 173.38 577.86 174.93 579.00 177.50C581.61 183.43 581.38 183.65 583.00 190.00C584.88 197.40 584.84 197.45 586.00 205.00C587.34 213.67 587.34 213.70 588.00 222.45C588.69 231.70 588.27 231.73 588.70 241.00C589.27 253.50 589.28 253.50 590.00 266.00C590.73 278.50 590.64 278.51 591.60 291.00C592.29 300.01 592.16 300.04 593.30 309.00C594.01 314.54 593.80 314.71 595.30 320.00C595.77 321.66 596.25 322.90 597.25 322.90C598.10 322.90 598.64 321.91 599.00 320.50C600.47 314.71 600.18 314.53 600.90 308.50C601.93 299.78 601.66 299.75 602.50 291.00C603.71 278.50 603.80 278.50 605.00 266.00C606.20 253.50 606.15 253.50 607.30 241.00C608.15 231.73 608.53 231.74 609.00 222.45C609.50 212.49 609.17 212.47 609.50 202.50C609.92 190.00 609.50 189.86 610.50 177.50C610.83 173.36 611.15 173.02 613.00 169.50C613.65 168.27 614.17 168.00 615.50 168.00C618.67 168.00 618.67 169.51 622.00 170.50C625.42 171.51 625.58 171.00 629.00 172.00C631.58 172.75 631.90 172.42 634.00 174.00C636.90 176.17 636.08 178.58 639.00 179.50C640.58 180.00 641.16 180.00 643.00 180.00C645.16 180.00 644.86 178.17 647.00 177.50C648.61 177.00 648.92 177.00 650.50 177.00C652.42 177.00 652.37 178.11 654.00 179.50C655.87 181.11 655.56 181.54 657.50 183.00C658.56 183.79 659.09 184.00 660.00 184.00C661.59 184.00 661.45 182.10 662.50 180.00C664.20 176.60 663.38 175.41 665.50 173.00C666.38 172.00 667.03 172.00 668.50 172.00C670.78 172.00 670.65 173.51 673.00 174.00C675.40 174.50 675.59 174.50 678.00 174.50C680.59 174.50 680.43 173.17 683.00 172.50C684.93 172.00 685.29 172.00 687.00 172.00C688.79 172.00 689.37 173.05 690.00 175.00C691.87 180.80 691.16 181.23 692.00 187.50C693.16 196.23 692.81 196.28 694.00 205.00C695.19 213.75 695.78 213.68 696.75 222.45C697.78 231.68 697.34 231.73 698.00 241.00C698.71 251.00 698.64 251.01 699.50 261.00C700.14 268.51 699.71 268.63 701.00 276.00C701.46 278.63 702.00 281.00 703.00 281.00C704.00 281.00 704.53 278.63 705.00 276.00C706.53 267.38 706.07 267.26 707.00 258.50C708.07 248.51 707.89 248.49 709.00 238.50C709.89 230.46 710.11 230.49 711.00 222.45C712.11 212.49 711.67 212.43 713.00 202.50C714.17 193.71 714.11 193.66 716.00 185.00C717.11 179.91 716.78 179.60 719.00 175.00C720.28 172.35 720.56 171.68 723.00 170.50C725.06 169.50 725.47 169.50 728.00 169.50C731.72 169.50 731.75 170.00 735.50 170.00C738.75 170.00 738.86 170.00 742.00 170.00C744.61 170.00 744.46 168.00 747.00 168.00C748.71 168.00 749.30 168.00 750.50 169.00C752.80 170.91 752.53 171.86 754.00 175.00C756.28 179.86 756.00 180.00 758.00 185.00C760.00 190.00 759.73 190.13 762.00 195.00C763.23 197.63 763.48 200.00 765.00 200.00C766.23 200.00 766.64 198.18 767.50 196.00C769.39 191.18 768.58 190.81 770.50 186.00C771.58 183.31 771.85 181.00 773.50 181.00C774.60 181.00 775.31 182.21 776.00 184.00C777.81 188.71 777.25 189.00 778.50 194.00C779.75 199.00 779.38 199.15 781.00 204.00C781.63 205.90 782.00 207.50 783.00 207.50C784.00 207.50 784.37 205.90 785.00 204.00C786.87 198.40 786.05 198.09 788.00 192.50C789.55 188.09 789.74 188.10 792.00 184.00C793.74 180.85 793.47 180.38 796.00 178.00C797.72 176.38 798.27 176.00 800.50 176.00C802.02 176.00 802.67 176.18 803.50 177.50C805.17 180.18 804.49 180.75 805.50 184.00C806.74 188.00 806.08 192.00 808.00 192.00C808.83 192.00 810.04 191.45 811.00 190.00C813.17 186.70 812.27 186.04 814.25 182.50C815.77 179.79 815.81 179.69 818.00 177.50C820.81 174.69 821.44 175.31 824.25 172.50C827.06 169.69 826.48 169.10 829.25 166.25C831.10 164.35 831.14 163.00 833.50 163.00C835.51 163.00 836.03 163.00 838.00 163.75C840.53 164.71 840.54 165.36 842.50 167.50C844.54 169.73 844.67 169.78 846.00 172.50C848.04 176.66 847.86 176.80 849.25 181.25C851.36 188.05 850.37 188.46 853.00 195.00C854.74 199.33 855.38 203.00 858.00 203.00C860.38 203.00 861.13 199.83 863.00 196.00C866.13 189.58 865.10 189.06 868.00 182.50C869.47 179.18 869.54 179.12 871.75 176.25C874.54 172.62 874.43 172.29 878.00 169.50C881.30 166.92 881.57 167.01 885.50 165.50C889.07 164.13 889.22 164.43 893.00 163.75C895.47 163.31 895.63 163.25 898.00 163.25C900.63 163.25 900.43 164.66 903.00 165.75C905.43 166.78 905.40 167.50 908.00 167.50C912.90 167.50 913.00 167.50 918.00 167.50C924.25 167.50 924.26 167.00 930.50 167.00C936.76 167.00 936.74 167.69 943.00 168.00C947.99 168.25 948.07 168.25 953.00 168.25C956.82 168.25 956.69 166.95 960.50 166.25C964.19 165.57 964.25 165.50 968.00 165.50C972.75 165.50 977.50 166.25 977.50 166.25" fill="none" stroke="#27a08a" stroke-width="1.2"/>
</g>
<g clip-path="url(#neg)">
<path d="M66.50 174.60C66.50 174.60 67.05 174.90 67.25 175.40C68.35 178.10 67.87 178.35 69.10 181.00C70.04 183.03 70.03 183.19 71.60 184.75C73.18 186.32 73.48 187.25 75.40 187.25C76.93 187.25 77.03 186.43 78.50 185.40C80.13 184.26 79.89 183.83 81.60 182.90C83.01 182.13 83.17 182.00 84.75 182.00C86.33 182.00 86.44 182.20 87.90 182.90C89.57 183.70 89.35 184.16 91.00 185.00C92.15 185.59 92.34 185.75 93.50 185.75C94.84 185.75 95.07 185.22 96.00 184.10C97.57 182.22 97.11 181.83 98.50 179.75C99.31 178.53 99.27 178.36 100.40 177.50C101.15 176.93 101.34 176.90 102.25 176.90C103.51 176.90 103.74 177.07 104.75 177.90C106.24 179.12 106.00 179.45 107.25 181.00C108.50 182.55 108.23 182.88 109.75 184.10C111.35 185.38 111.51 185.40 113.50 186.00C115.89 186.72 116.00 186.75 118.50 186.75C120.05 186.75 120.42 186.75 121.60 186.40C123.22 185.92 122.88 184.67 124.10 182.90C125.08 181.47 124.80 181.18 126.00 180.00C127.00 179.03 127.22 178.60 128.50 178.60C129.72 178.60 130.13 178.78 131.00 179.75C132.33 181.23 132.24 181.52 132.90 183.50C134.11 187.14 133.79 187.26 134.75 191.00C135.64 194.46 135.43 194.56 136.60 197.90C137.00 199.06 137.27 200.00 137.90 200.00C138.52 200.00 138.85 199.07 139.10 197.90C140.10 193.32 139.89 193.22 140.40 188.50C141.14 181.64 140.77 181.59 141.60 174.75C142.02 171.29 141.87 171.18 142.90 167.90C143.44 166.18 143.38 165.37 144.75 164.75C146.18 164.10 146.65 164.10 148.50 164.10C150.73 164.10 150.77 164.57 152.90 165.40C155.14 166.27 154.98 166.71 157.25 167.50C160.28 168.56 160.42 169.10 163.50 169.10C166.05 169.10 166.13 168.44 168.50 167.25C171.13 165.94 170.89 165.47 173.50 164.10C176.19 162.69 176.20 161.98 179.10 161.70C181.20 161.50 181.53 161.50 183.50 161.50C186.23 161.50 185.94 163.35 188.50 165.00C191.56 166.97 191.39 167.46 194.75 168.75C198.89 170.34 199.07 170.75 203.50 170.75C208.44 170.75 208.51 170.75 213.50 170.75C216.63 170.75 216.92 170.75 219.75 171.25C223.17 171.85 222.69 173.71 226.00 175.50C228.94 177.09 229.58 176.13 232.25 178.00C234.58 179.63 234.67 179.93 236.00 182.50C238.42 187.18 237.57 187.64 239.75 192.50C241.32 196.01 241.26 199.25 243.50 199.25C244.39 199.25 245.36 198.84 246.00 197.50C248.76 191.71 248.70 191.39 250.30 185.00C252.45 176.39 252.07 176.28 253.50 167.50C254.92 158.78 254.75 158.75 256.00 150.00C257.25 141.25 257.16 141.24 258.50 132.50C259.66 124.99 259.51 124.95 261.00 117.50C262.26 111.20 262.05 111.09 264.00 105.00C265.05 101.72 264.92 101.31 267.00 98.75C268.17 97.31 268.78 97.00 270.50 97.00C272.03 97.00 272.32 97.53 273.50 98.75C275.57 100.90 274.95 101.52 277.00 103.75C279.20 106.15 279.45 105.94 282.00 108.00C283.95 109.57 284.87 108.91 286.00 111.00C288.12 114.91 287.81 115.40 288.50 120.00C289.81 128.65 289.34 128.74 290.00 137.50C290.84 148.74 290.66 148.76 291.50 160.00C292.16 168.76 291.50 169.07 293.00 177.50C293.37 179.57 293.66 181.00 295.50 181.00C298.91 181.00 299.51 181.00 303.50 181.00C307.76 181.00 307.78 182.00 312.00 182.00C314.03 182.00 314.54 182.00 316.00 181.00C318.54 179.25 317.73 177.76 320.00 175.00C321.23 173.51 321.50 172.50 323.00 172.50C324.50 172.50 325.01 173.37 326.00 175.00C328.51 179.12 328.06 179.47 330.00 184.00C331.06 186.47 330.65 186.69 332.00 189.00C334.15 192.69 333.89 193.53 337.00 196.00C338.89 197.50 339.44 197.50 342.00 197.50C345.69 197.50 345.98 197.00 349.50 197.00C352.23 197.00 351.98 198.54 354.50 200.00C356.73 201.29 357.24 202.50 359.00 202.50C360.99 202.50 361.14 200.25 362.00 197.50C363.89 191.50 362.68 191.06 364.50 185.00C365.68 181.06 365.63 180.82 368.00 177.50C370.63 173.82 370.90 173.77 374.50 171.00C377.40 168.77 377.60 168.83 381.00 167.50C383.35 166.58 383.61 166.50 386.00 166.50C388.61 166.50 389.23 167.02 391.00 169.00C393.48 171.77 393.21 172.32 394.50 176.00C396.71 182.32 395.59 182.81 398.00 189.00C399.09 191.81 399.20 194.00 401.50 194.00C403.20 194.00 403.84 194.00 406.00 194.00C408.59 194.00 408.53 192.00 411.00 192.00C412.03 192.00 412.48 192.07 413.00 193.00C414.98 196.57 414.61 196.96 416.00 201.00C417.11 204.21 416.41 204.64 418.00 207.50C418.91 209.14 419.27 210.00 421.00 210.00C423.27 210.00 423.84 210.00 426.00 209.00C428.09 208.03 427.99 207.44 429.50 205.50C431.49 202.94 430.82 202.32 433.00 200.00C434.57 198.32 434.82 197.50 437.00 197.50C439.32 197.50 439.57 197.50 442.00 198.00C444.07 198.43 444.26 199.50 446.00 199.50C448.01 199.50 448.14 198.03 449.50 196.00C451.64 192.78 450.82 192.19 453.00 189.00C454.57 186.69 454.63 186.11 457.00 185.00C459.13 184.00 459.82 185.00 462.00 184.00C463.82 183.17 464.04 182.84 465.00 181.00C467.04 177.09 465.95 176.45 468.00 172.50C469.45 169.70 469.47 167.50 472.00 167.50C473.97 167.50 474.55 167.50 477.00 167.50C480.80 167.50 480.70 168.74 484.50 169.50C488.20 170.24 488.27 170.50 492.00 170.50C495.77 170.50 495.90 169.00 499.50 169.00C501.40 169.00 502.03 169.36 503.00 171.00C505.28 174.86 504.73 175.44 506.00 180.00C507.23 184.44 506.37 186.76 508.00 189.00C508.37 189.50 509.71 189.50 510.00 189.50C511.71 189.50 511.18 183.53 512.00 177.50C513.18 168.78 512.12 168.45 514.00 160.00C514.62 157.20 514.85 155.58 517.00 155.00C518.85 154.50 519.63 154.50 522.00 154.50C524.63 154.50 524.97 155.20 527.00 157.00C529.47 159.20 528.96 159.78 531.00 162.50C532.71 164.78 532.31 165.33 534.50 167.00C536.56 168.58 536.88 168.48 539.50 169.00C544.38 169.98 544.55 169.20 549.50 170.00C553.80 170.70 553.69 171.56 558.00 172.00C562.94 172.50 563.00 172.21 568.00 172.50C571.75 172.71 572.37 172.50 575.50 173.00C577.87 173.38 577.86 174.93 579.00 177.50C581.61 183.43 581.38 183.65 583.00 190.00C584.88 197.40 584.84 197.45 586.00 205.00C587.34 213.67 587.34 213.70 588.00 222.45C588.69 231.70 588.27 231.73 588.70 241.00C589.27 253.50 589.28 253.50 590.00 266.00C590.73 278.50 590.64 278.51 591.60 291.00C592.29 300.01 592.16 300.04 593.30 309.00C594.01 314.54 593.80 314.71 595.30 320.00C595.77 321.66 596.25 322.90 597.25 322.90C598.10 322.90 598.64 321.91 599.00 320.50C600.47 314.71 600.18 314.53 600.90 308.50C601.93 299.78 601.66 299.75 602.50 291.00C603.71 278.50 603.80 278.50 605.00 266.00C606.20 253.50 606.15 253.50 607.30 241.00C608.15 231.73 608.53 231.74 609.00 222.45C609.50 212.49 609.17 212.47 609.50 202.50C609.92 190.00 609.50 189.86 610.50 177.50C610.83 173.36 611.15 173.02 613.00 169.50C613.65 168.27 614.17 168.00 615.50 168.00C618.67 168.00 618.67 169.51 622.00 170.50C625.42 171.51 625.58 171.00 629.00 172.00C631.58 172.75 631.90 172.42 634.00 174.00C636.90 176.17 636.08 178.58 639.00 179.50C640.58 180.00 641.16 180.00 643.00 180.00C645.16 180.00 644.86 178.17 647.00 177.50C648.61 177.00 648.92 177.00 650.50 177.00C652.42 177.00 652.37 178.11 654.00 179.50C655.87 181.11 655.56 181.54 657.50 183.00C658.56 183.79 659.09 184.00 660.00 184.00C661.59 184.00 661.45 182.10 662.50 180.00C664.20 176.60 663.38 175.41 665.50 173.00C666.38 172.00 667.03 172.00 668.50 172.00C670.78 172.00 670.65 173.51 673.00 174.00C675.40 174.50 675.59 174.50 678.00 174.50C680.59 174.50 680.43 173.17 683.00 172.50C684.93 172.00 685.29 172.00 687.00 172.00C688.79 172.00 689.37 173.05 690.00 175.00C691.87 180.80 691.16 181.23 692.00 187.50C693.16 196.23 692.81 196.28 694.00 205.00C695.19 213.75 695.78 213.68 696.75 222.45C697.78 231.68 697.34 231.73 698.00 241.00C698.71 251.00 698.64 251.01 699.50 261.00C700.14 268.51 699.71 268.63 701.00 276.00C701.46 278.63 702.00 281.00 703.00 281.00C704.00 281.00 704.53 278.63 705.00 276.00C706.53 267.38 706.07 267.26 707.00 258.50C708.07 248.51 707.89 248.49 709.00 238.50C709.89 230.46 710.11 230.49 711.00 222.45C712.11 212.49 711.67 212.43 713.00 202.50C714.17 193.71 714.11 193.66 716.00 185.00C717.11 179.91 716.78 179.60 719.00 175.00C720.28 172.35 720.56 171.68 723.00 170.50C725.06 169.50 725.47 169.50 728.00 169.50C731.72 169.50 731.75 170.00 735.50 170.00C738.75 170.00 738.86 170.00 742.00 170.00C744.61 170.00 744.46 168.00 747.00 168.00C748.71 168.00 749.30 168.00 750.50 169.00C752.80 170.91 752.53 171.86 754.00 175.00C756.28 179.86 756.00 180.00 758.00 185.00C760.00 190.00 759.73 190.13 762.00 195.00C763.23 197.63 763.48 200.00 765.00 200.00C766.23 200.00 766.64 198.18 767.50 196.00C769.39 191.18 768.58 190.81 770.50 186.00C771.58 183.31 771.85 181.00 773.50 181.00C774.60 181.00 775.31 182.21 776.00 184.00C777.81 188.71 777.25 189.00 778.50 194.00C779.75 199.00 779.38 199.15 781.00 204.00C781.63 205.90 782.00 207.50 783.00 207.50C784.00 207.50 784.37 205.90 785.00 204.00C786.87 198.40 786.05 198.09 788.00 192.50C789.55 188.09 789.74 188.10 792.00 184.00C793.74 180.85 793.47 180.38 796.00 178.00C797.72 176.38 798.27 176.00 800.50 176.00C802.02 176.00 802.67 176.18 803.50 177.50C805.17 180.18 804.49 180.75 805.50 184.00C806.74 188.00 806.08 192.00 808.00 192.00C808.83 192.00 810.04 191.45 811.00 190.00C813.17 186.70 812.27 186.04 814.25 182.50C815.77 179.79 815.81 179.69 818.00 177.50C820.81 174.69 821.44 175.31 824.25 172.50C827.06 169.69 826.48 169.10 829.25 166.25C831.10 164.35 831.14 163.00 833.50 163.00C835.51 163.00 836.03 163.00 838.00 163.75C840.53 164.71 840.54 165.36 842.50 167.50C844.54 169.73 844.67 169.78 846.00 172.50C848.04 176.66 847.86 176.80 849.25 181.25C851.36 188.05 850.37 188.46 853.00 195.00C854.74 199.33 855.38 203.00 858.00 203.00C860.38 203.00 861.13 199.83 863.00 196.00C866.13 189.58 865.10 189.06 868.00 182.50C869.47 179.18 869.54 179.12 871.75 176.25C874.54 172.62 874.43 172.29 878.00 169.50C881.30 166.92 881.57 167.01 885.50 165.50C889.07 164.13 889.22 164.43 893.00 163.75C895.47 163.31 895.63 163.25 898.00 163.25C900.63 163.25 900.43 164.66 903.00 165.75C905.43 166.78 905.40 167.50 908.00 167.50C912.90 167.50 913.00 167.50 918.00 167.50C924.25 167.50 924.26 167.00 930.50 167.00C936.76 167.00 936.74 167.69 943.00 168.00C947.99 168.25 948.07 168.25 953.00 168.25C956.82 168.25 956.69 166.95 960.50 166.25C964.19 165.57 964.25 165.50 968.00 165.50C972.75 165.50 977.50 166.25 977.50 166.25L977.50 222.45 L66.50 222.45 Z" fill="#bb2b3b"/>
<path d="M66.50 174.60C66.50 174.60 67.05 174.90 67.25 175.40C68.35 178.10 67.87 178.35 69.10 181.00C70.04 183.03 70.03 183.19 71.60 184.75C73.18 186.32 73.48 187.25 75.40 187.25C76.93 187.25 77.03 186.43 78.50 185.40C80.13 184.26 79.89 183.83 81.60 182.90C83.01 182.13 83.17 182.00 84.75 182.00C86.33 182.00 86.44 182.20 87.90 182.90C89.57 183.70 89.35 184.16 91.00 185.00C92.15 185.59 92.34 185.75 93.50 185.75C94.84 185.75 95.07 185.22 96.00 184.10C97.57 182.22 97.11 181.83 98.50 179.75C99.31 178.53 99.27 178.36 100.40 177.50C101.15 176.93 101.34 176.90 102.25 176.90C103.51 176.90 103.74 177.07 104.75 177.90C106.24 179.12 106.00 179.45 107.25 181.00C108.50 182.55 108.23 182.88 109.75 184.10C111.35 185.38 111.51 185.40 113.50 186.00C115.89 186.72 116.00 186.75 118.50 186.75C120.05 186.75 120.42 186.75 121.60 186.40C123.22 185.92 122.88 184.67 124.10 182.90C125.08 181.47 124.80 181.18 126.00 180.00C127.00 179.03 127.22 178.60 128.50 178.60C129.72 178.60 130.13 178.78 131.00 179.75C132.33 181.23 132.24 181.52 132.90 183.50C134.11 187.14 133.79 187.26 134.75 191.00C135.64 194.46 135.43 194.56 136.60 197.90C137.00 199.06 137.27 200.00 137.90 200.00C138.52 200.00 138.85 199.07 139.10 197.90C140.10 193.32 139.89 193.22 140.40 188.50C141.14 181.64 140.77 181.59 141.60 174.75C142.02 171.29 141.87 171.18 142.90 167.90C143.44 166.18 143.38 165.37 144.75 164.75C146.18 164.10 146.65 164.10 148.50 164.10C150.73 164.10 150.77 164.57 152.90 165.40C155.14 166.27 154.98 166.71 157.25 167.50C160.28 168.56 160.42 169.10 163.50 169.10C166.05 169.10 166.13 168.44 168.50 167.25C171.13 165.94 170.89 165.47 173.50 164.10C176.19 162.69 176.20 161.98 179.10 161.70C181.20 161.50 181.53 161.50 183.50 161.50C186.23 161.50 185.94 163.35 188.50 165.00C191.56 166.97 191.39 167.46 194.75 168.75C198.89 170.34 199.07 170.75 203.50 170.75C208.44 170.75 208.51 170.75 213.50 170.75C216.63 170.75 216.92 170.75 219.75 171.25C223.17 171.85 222.69 173.71 226.00 175.50C228.94 177.09 229.58 176.13 232.25 178.00C234.58 179.63 234.67 179.93 236.00 182.50C238.42 187.18 237.57 187.64 239.75 192.50C241.32 196.01 241.26 199.25 243.50 199.25C244.39 199.25 245.36 198.84 246.00 197.50C248.76 191.71 248.70 191.39 250.30 185.00C252.45 176.39 252.07 176.28 253.50 167.50C254.92 158.78 254.75 158.75 256.00 150.00C257.25 141.25 257.16 141.24 258.50 132.50C259.66 124.99 259.51 124.95 261.00 117.50C262.26 111.20 262.05 111.09 264.00 105.00C265.05 101.72 264.92 101.31 267.00 98.75C268.17 97.31 268.78 97.00 270.50 97.00C272.03 97.00 272.32 97.53 273.50 98.75C275.57 100.90 274.95 101.52 277.00 103.75C279.20 106.15 279.45 105.94 282.00 108.00C283.95 109.57 284.87 108.91 286.00 111.00C288.12 114.91 287.81 115.40 288.50 120.00C289.81 128.65 289.34 128.74 290.00 137.50C290.84 148.74 290.66 148.76 291.50 160.00C292.16 168.76 291.50 169.07 293.00 177.50C293.37 179.57 293.66 181.00 295.50 181.00C298.91 181.00 299.51 181.00 303.50 181.00C307.76 181.00 307.78 182.00 312.00 182.00C314.03 182.00 314.54 182.00 316.00 181.00C318.54 179.25 317.73 177.76 320.00 175.00C321.23 173.51 321.50 172.50 323.00 172.50C324.50 172.50 325.01 173.37 326.00 175.00C328.51 179.12 328.06 179.47 330.00 184.00C331.06 186.47 330.65 186.69 332.00 189.00C334.15 192.69 333.89 193.53 337.00 196.00C338.89 197.50 339.44 197.50 342.00 197.50C345.69 197.50 345.98 197.00 349.50 197.00C352.23 197.00 351.98 198.54 354.50 200.00C356.73 201.29 357.24 202.50 359.00 202.50C360.99 202.50 361.14 200.25 362.00 197.50C363.89 191.50 362.68 191.06 364.50 185.00C365.68 181.06 365.63 180.82 368.00 177.50C370.63 173.82 370.90 173.77 374.50 171.00C377.40 168.77 377.60 168.83 381.00 167.50C383.35 166.58 383.61 166.50 386.00 166.50C388.61 166.50 389.23 167.02 391.00 169.00C393.48 171.77 393.21 172.32 394.50 176.00C396.71 182.32 395.59 182.81 398.00 189.00C399.09 191.81 399.20 194.00 401.50 194.00C403.20 194.00 403.84 194.00 406.00 194.00C408.59 194.00 408.53 192.00 411.00 192.00C412.03 192.00 412.48 192.07 413.00 193.00C414.98 196.57 414.61 196.96 416.00 201.00C417.11 204.21 416.41 204.64 418.00 207.50C418.91 209.14 419.27 210.00 421.00 210.00C423.27 210.00 423.84 210.00 426.00 209.00C428.09 208.03 427.99 207.44 429.50 205.50C431.49 202.94 430.82 202.32 433.00 200.00C434.57 198.32 434.82 197.50 437.00 197.50C439.32 197.50 439.57 197.50 442.00 198.00C444.07 198.43 444.26 199.50 446.00 199.50C448.01 199.50 448.14 198.03 449.50 196.00C451.64 192.78 450.82 192.19 453.00 189.00C454.57 186.69 454.63 186.11 457.00 185.00C459.13 184.00 459.82 185.00 462.00 184.00C463.82 183.17 464.04 182.84 465.00 181.00C467.04 177.09 465.95 176.45 468.00 172.50C469.45 169.70 469.47 167.50 472.00 167.50C473.97 167.50 474.55 167.50 477.00 167.50C480.80 167.50 480.70 168.74 484.50 169.50C488.20 170.24 488.27 170.50 492.00 170.50C495.77 170.50 495.90 169.00 499.50 169.00C501.40 169.00 502.03 169.36 503.00 171.00C505.28 174.86 504.73 175.44 506.00 180.00C507.23 184.44 506.37 186.76 508.00 189.00C508.37 189.50 509.71 189.50 510.00 189.50C511.71 189.50 511.18 183.53 512.00 177.50C513.18 168.78 512.12 168.45 514.00 160.00C514.62 157.20 514.85 155.58 517.00 155.00C518.85 154.50 519.63 154.50 522.00 154.50C524.63 154.50 524.97 155.20 527.00 157.00C529.47 159.20 528.96 159.78 531.00 162.50C532.71 164.78 532.31 165.33 534.50 167.00C536.56 168.58 536.88 168.48 539.50 169.00C544.38 169.98 544.55 169.20 549.50 170.00C553.80 170.70 553.69 171.56 558.00 172.00C562.94 172.50 563.00 172.21 568.00 172.50C571.75 172.71 572.37 172.50 575.50 173.00C577.87 173.38 577.86 174.93 579.00 177.50C581.61 183.43 581.38 183.65 583.00 190.00C584.88 197.40 584.84 197.45 586.00 205.00C587.34 213.67 587.34 213.70 588.00 222.45C588.69 231.70 588.27 231.73 588.70 241.00C589.27 253.50 589.28 253.50 590.00 266.00C590.73 278.50 590.64 278.51 591.60 291.00C592.29 300.01 592.16 300.04 593.30 309.00C594.01 314.54 593.80 314.71 595.30 320.00C595.77 321.66 596.25 322.90 597.25 322.90C598.10 322.90 598.64 321.91 599.00 320.50C600.47 314.71 600.18 314.53 600.90 308.50C601.93 299.78 601.66 299.75 602.50 291.00C603.71 278.50 603.80 278.50 605.00 266.00C606.20 253.50 606.15 253.50 607.30 241.00C608.15 231.73 608.53 231.74 609.00 222.45C609.50 212.49 609.17 212.47 609.50 202.50C609.92 190.00 609.50 189.86 610.50 177.50C610.83 173.36 611.15 173.02 613.00 169.50C613.65 168.27 614.17 168.00 615.50 168.00C618.67 168.00 618.67 169.51 622.00 170.50C625.42 171.51 625.58 171.00 629.00 172.00C631.58 172.75 631.90 172.42 634.00 174.00C636.90 176.17 636.08 178.58 639.00 179.50C640.58 180.00 641.16 180.00 643.00 180.00C645.16 180.00 644.86 178.17 647.00 177.50C648.61 177.00 648.92 177.00 650.50 177.00C652.42 177.00 652.37 178.11 654.00 179.50C655.87 181.11 655.56 181.54 657.50 183.00C658.56 183.79 659.09 184.00 660.00 184.00C661.59 184.00 661.45 182.10 662.50 180.00C664.20 176.60 663.38 175.41 665.50 173.00C666.38 172.00 667.03 172.00 668.50 172.00C670.78 172.00 670.65 173.51 673.00 174.00C675.40 174.50 675.59 174.50 678.00 174.50C680.59 174.50 680.43 173.17 683.00 172.50C684.93 172.00 685.29 172.00 687.00 172.00C688.79 172.00 689.37 173.05 690.00 175.00C691.87 180.80 691.16 181.23 692.00 187.50C693.16 196.23 692.81 196.28 694.00 205.00C695.19 213.75 695.78 213.68 696.75 222.45C697.78 231.68 697.34 231.73 698.00 241.00C698.71 251.00 698.64 251.01 699.50 261.00C700.14 268.51 699.71 268.63 701.00 276.00C701.46 278.63 702.00 281.00 703.00 281.00C704.00 281.00 704.53 278.63 705.00 276.00C706.53 267.38 706.07 267.26 707.00 258.50C708.07 248.51 707.89 248.49 709.00 238.50C709.89 230.46 710.11 230.49 711.00 222.45C712.11 212.49 711.67 212.43 713.00 202.50C714.17 193.71 714.11 193.66 716.00 185.00C717.11 179.91 716.78 179.60 719.00 175.00C720.28 172.35 720.56 171.68 723.00 170.50C725.06 169.50 725.47 169.50 728.00 169.50C731.72 169.50 731.75 170.00 735.50 170.00C738.75 170.00 738.86 170.00 742.00 170.00C744.61 170.00 744.46 168.00 747.00 168.00C748.71 168.00 749.30 168.00 750.50 169.00C752.80 170.91 752.53 171.86 754.00 175.00C756.28 179.86 756.00 180.00 758.00 185.00C760.00 190.00 759.73 190.13 762.00 195.00C763.23 197.63 763.48 200.00 765.00 200.00C766.23 200.00 766.64 198.18 767.50 196.00C769.39 191.18 768.58 190.81 770.50 186.00C771.58 183.31 771.85 181.00 773.50 181.00C774.60 181.00 775.31 182.21 776.00 184.00C777.81 188.71 777.25 189.00 778.50 194.00C779.75 199.00 779.38 199.15 781.00 204.00C781.63 205.90 782.00 207.50 783.00 207.50C784.00 207.50 784.37 205.90 785.00 204.00C786.87 198.40 786.05 198.09 788.00 192.50C789.55 188.09 789.74 188.10 792.00 184.00C793.74 180.85 793.47 180.38 796.00 178.00C797.72 176.38 798.27 176.00 800.50 176.00C802.02 176.00 802.67 176.18 803.50 177.50C805.17 180.18 804.49 180.75 805.50 184.00C806.74 188.00 806.08 192.00 808.00 192.00C808.83 192.00 810.04 191.45 811.00 190.00C813.17 186.70 812.27 186.04 814.25 182.50C815.77 179.79 815.81 179.69 818.00 177.50C820.81 174.69 821.44 175.31 824.25 172.50C827.06 169.69 826.48 169.10 829.25 166.25C831.10 164.35 831.14 163.00 833.50 163.00C835.51 163.00 836.03 163.00 838.00 163.75C840.53 164.71 840.54 165.36 842.50 167.50C844.54 169.73 844.67 169.78 846.00 172.50C848.04 176.66 847.86 176.80 849.25 181.25C851.36 188.05 850.37 188.46 853.00 195.00C854.74 199.33 855.38 203.00 858.00 203.00C860.38 203.00 861.13 199.83 863.00 196.00C866.13 189.58 865.10 189.06 868.00 182.50C869.47 179.18 869.54 179.12 871.75 176.25C874.54 172.62 874.43 172.29 878.00 169.50C881.30 166.92 881.57 167.01 885.50 165.50C889.07 164.13 889.22 164.43 893.00 163.75C895.47 163.31 895.63 163.25 898.00 163.25C900.63 163.25 900.43 164.66 903.00 165.75C905.43 166.78 905.40 167.50 908.00 167.50C912.90 167.50 913.00 167.50 918.00 167.50C924.25 167.50 924.26 167.00 930.50 167.00C936.76 167.00 936.74 167.69 943.00 168.00C947.99 168.25 948.07 168.25 953.00 168.25C956.82 168.25 956.69 166.95 960.50 166.25C964.19 165.57 964.25 165.50 968.00 165.50C972.75 165.50 977.50 166.25 977.50 166.25" fill="none" stroke="#cf3445" stroke-width="1"/>
</g>

<!-- price line -->
<path d="M66.50 272.50C66.50 272.50 69.00 272.36 71.00 271.25C73.50 269.86 73.92 269.86 75.50 267.50C77.67 264.24 76.93 263.72 78.50 260.00C79.68 257.22 79.17 256.70 81.00 254.50C82.29 252.95 82.72 252.78 84.75 252.50C88.34 252.00 88.53 252.00 92.25 252.00C95.40 252.00 95.40 252.53 98.50 253.25C100.77 253.78 101.07 254.50 103.00 254.50C104.82 254.50 105.10 253.21 106.00 251.25C107.85 247.21 107.14 246.84 108.50 242.50C110.27 236.84 110.00 236.72 112.25 231.25C114.37 226.09 114.34 225.99 117.25 221.25C119.34 217.86 119.24 217.41 122.25 215.00C124.24 213.41 124.67 213.25 127.25 213.25C130.30 213.25 130.38 213.46 133.50 213.75C135.75 213.96 136.25 214.25 138.00 214.25C140.00 214.25 140.10 212.38 141.00 210.00C142.40 206.26 141.85 206.01 142.60 202.00C143.72 196.01 143.87 196.03 144.75 190.00C146.20 180.03 145.77 179.97 147.25 170.00C148.27 163.09 147.57 162.70 149.75 156.25C150.69 153.45 150.91 151.80 153.50 151.50C157.79 151.00 158.76 151.50 163.50 151.00C166.26 150.71 166.00 149.50 168.50 148.00C170.38 146.88 170.51 145.75 172.25 145.75C174.01 145.75 174.70 146.77 175.50 148.75C177.58 153.90 176.38 154.49 178.00 160.00C179.13 163.86 178.74 164.33 181.00 167.50C182.74 169.95 183.22 171.25 186.00 171.25C188.22 171.25 188.88 171.25 191.00 171.25C193.25 171.25 192.58 168.93 194.75 167.50C196.95 166.05 197.25 165.50 199.75 165.50C202.25 165.50 202.74 165.84 204.75 167.50C207.74 169.97 207.78 170.30 209.75 173.75C212.78 179.05 212.63 179.24 214.75 185.00C217.00 191.11 216.84 191.19 218.50 197.50C219.97 203.07 219.17 203.35 221.00 208.75C221.92 211.48 221.88 213.75 224.00 213.75C225.63 213.75 226.65 213.75 228.50 213.75C231.40 213.75 231.87 211.79 233.50 208.75C236.24 203.66 235.74 203.22 237.25 197.50C238.87 191.35 238.44 191.24 239.75 185.00C240.94 179.36 240.34 179.11 242.25 173.75C243.46 170.36 243.62 170.18 246.00 167.50C248.62 164.56 249.04 164.88 252.25 162.50C255.29 160.25 255.16 158.75 258.50 158.25C260.16 158.00 260.56 158.00 262.25 158.00C264.93 158.00 264.65 159.83 267.25 161.25C268.77 162.08 269.20 162.50 270.50 162.50C272.95 162.50 272.38 159.73 274.75 157.50C276.63 155.73 276.73 154.50 279.00 154.50C281.11 154.50 281.99 154.56 283.50 156.25C286.12 159.19 286.08 159.77 287.25 163.75C289.20 170.39 288.65 170.60 289.75 177.50C291.15 186.23 290.91 186.26 292.25 195.00C293.41 202.51 292.91 202.66 294.75 210.00C296.04 215.16 295.82 215.55 298.50 220.00C300.19 222.80 300.68 224.50 303.50 224.50C305.68 224.50 306.17 224.10 308.50 223.00C310.42 222.10 310.17 221.62 312.00 220.50C313.42 219.62 313.86 219.00 315.00 219.00C316.36 219.00 316.52 220.57 317.00 222.50C318.52 228.57 317.57 228.86 319.00 235.00C320.07 239.61 319.59 244.00 322.00 244.00C323.09 244.00 324.31 243.72 326.00 242.50C328.81 240.47 328.12 239.37 331.00 237.50C333.12 236.12 333.51 236.79 336.00 236.00C339.01 235.04 339.54 235.79 342.00 234.00C345.04 231.79 344.14 230.58 347.00 228.00C349.14 226.08 349.33 226.07 352.00 225.00C354.33 224.07 354.91 225.00 357.00 224.00C359.91 222.61 359.86 221.78 362.00 219.00C364.86 215.28 364.26 214.83 367.00 211.00C369.26 207.83 369.14 207.56 372.00 205.00C373.89 203.31 374.37 202.50 376.50 202.50C378.12 202.50 378.63 203.32 379.50 205.00C381.63 209.07 381.07 209.48 382.50 214.00C384.07 218.98 384.17 218.96 385.50 224.00C386.67 228.46 386.45 228.51 387.50 233.00C388.58 237.64 387.99 237.93 389.75 242.25C390.74 244.68 391.15 246.50 393.00 246.50C394.90 246.50 395.03 244.62 397.25 243.00C399.65 241.25 399.62 239.75 402.25 239.75C404.62 239.75 405.17 240.13 407.25 241.75C410.80 244.51 410.31 245.19 413.50 248.50C416.56 251.69 416.27 252.09 419.75 254.75C423.14 257.34 424.12 256.22 427.25 259.00C429.74 261.22 429.38 261.73 431.00 264.75C433.13 268.73 432.26 269.45 434.75 273.00C435.76 274.45 436.53 274.75 438.00 274.75C439.90 274.75 440.02 273.35 441.50 271.50C444.02 268.35 443.19 267.49 446.00 264.75C447.94 262.86 448.50 263.50 451.00 262.25C453.50 261.00 454.25 261.75 456.00 259.75C458.62 256.75 457.88 256.00 459.75 252.25C461.00 249.75 460.42 249.02 462.25 247.25C463.54 246.00 464.11 246.00 466.00 246.00C468.23 246.00 468.77 246.00 470.50 247.25C472.77 248.88 472.80 249.49 474.00 252.25C475.80 256.37 475.16 256.65 476.50 261.00C477.66 264.78 477.11 265.24 479.00 268.50C479.86 269.99 480.60 270.50 482.00 270.50C483.85 270.50 483.95 269.05 485.50 267.25C487.82 264.55 487.09 263.65 489.75 261.50C491.72 259.90 492.22 260.51 494.75 259.75C497.22 259.01 497.94 259.75 499.75 258.50C502.31 256.73 502.29 255.64 503.50 252.25C505.41 246.89 504.87 246.65 506.00 241.00C507.37 234.15 507.13 234.10 508.50 227.25C509.63 221.60 509.86 221.65 511.00 216.00C511.86 211.77 511.76 211.75 512.50 207.50C513.51 201.75 512.67 201.32 514.50 196.00C515.17 194.07 515.89 193.00 517.50 193.00C519.14 193.00 519.44 194.03 521.00 195.50C523.69 198.03 523.43 198.32 526.00 201.00C528.93 204.07 528.65 204.49 532.00 207.00C534.65 208.99 534.95 208.61 538.00 210.00C540.45 211.11 540.94 210.40 543.00 212.00C545.44 213.90 545.33 214.29 547.00 217.00C549.33 220.79 548.95 221.02 551.00 225.00C553.45 229.77 552.85 230.30 556.00 234.50C557.85 236.95 558.20 238.30 561.00 238.30C563.83 238.30 564.12 237.75 567.25 237.25C569.75 236.85 570.39 236.50 572.25 236.50C574.14 236.50 574.10 238.54 574.75 241.00C576.35 247.04 575.55 247.29 576.75 253.50C577.92 259.54 577.37 259.82 579.50 265.50C580.75 268.82 581.24 268.71 583.50 271.50C585.49 273.96 586.35 273.36 588.00 276.00C590.10 279.36 589.79 279.66 591.00 283.50C592.54 288.41 591.88 288.64 593.50 293.50C594.38 296.14 594.27 298.50 596.00 298.50C596.77 298.50 597.73 298.50 598.50 298.50C600.23 298.50 599.85 296.05 601.00 293.50C602.10 291.05 601.19 289.30 603.00 288.50C604.69 287.75 605.49 287.75 608.00 287.75C610.99 287.75 611.17 287.90 614.00 287.90C616.32 287.90 616.48 287.10 618.30 285.50C620.58 283.50 619.84 282.56 622.20 280.70C624.29 279.06 624.60 279.07 627.20 278.50C629.50 278.00 629.69 278.50 632.00 278.00C635.34 277.28 635.20 276.57 638.50 275.50C640.20 274.95 640.50 274.75 642.00 274.75C644.00 274.75 644.04 276.14 645.50 278.00C647.29 280.27 646.53 282.04 648.50 283.00C649.53 283.50 650.49 283.50 651.50 283.50C653.62 283.50 652.72 280.39 654.75 278.00C656.22 276.26 656.44 275.25 658.50 275.25C660.81 275.25 660.98 276.06 663.50 276.75C665.98 277.43 666.18 278.00 668.50 278.00C671.18 278.00 670.93 276.26 673.50 274.75C675.18 273.76 675.39 273.00 677.00 273.00C678.89 273.00 679.56 273.98 680.50 276.00C682.81 280.98 681.82 281.56 683.50 287.00C685.07 292.06 684.63 292.34 687.00 297.00C688.63 300.21 688.73 301.55 691.50 302.75C693.23 303.50 693.91 303.50 696.00 303.50C698.66 303.50 699.04 302.56 701.00 300.50C703.79 297.56 703.49 297.13 705.50 293.50C707.49 289.88 706.74 289.31 709.00 286.00C709.99 284.56 710.44 284.00 712.00 284.00C713.94 284.00 714.20 284.70 716.00 286.00C718.70 287.95 718.25 288.62 721.00 290.50C723.75 292.37 723.86 293.50 727.00 293.50C729.11 293.50 729.75 293.50 731.50 293.50C734.00 293.50 733.08 290.41 735.50 288.50C737.20 287.16 737.62 287.00 739.75 287.00C741.88 287.00 742.24 287.20 744.00 288.50C746.62 290.45 746.71 290.70 748.50 293.50C750.71 296.95 749.66 297.73 752.00 301.00C753.41 302.98 753.83 304.00 756.00 304.00C758.33 304.00 758.47 302.93 761.00 302.00C763.22 301.18 763.47 300.50 765.50 300.50C767.47 300.50 767.50 301.77 769.00 303.50C771.50 306.39 770.94 306.92 773.50 309.75C775.69 312.17 775.72 312.40 778.50 314.00C780.72 315.27 781.39 315.50 783.50 315.50C785.64 315.50 785.49 313.67 787.00 311.50C788.62 309.17 788.08 308.75 789.75 306.50C790.58 305.38 790.92 304.75 792.00 304.75C793.54 304.75 793.56 306.06 795.00 307.50C797.19 309.69 796.93 312.00 799.25 312.00C800.68 312.00 801.50 311.52 802.50 310.00C804.62 306.77 803.60 306.02 805.50 302.50C806.97 299.77 806.85 299.02 809.25 297.50C811.23 296.25 811.78 296.99 814.25 296.25C816.78 295.49 816.95 295.74 819.25 294.50C821.57 293.24 821.16 292.45 823.50 291.25C825.54 290.20 825.71 290.00 828.00 290.00C830.71 290.00 831.01 290.00 833.50 290.50C836.01 291.00 836.36 291.61 838.00 293.75C840.48 296.98 839.78 297.55 841.75 301.25C843.78 305.05 843.35 305.43 846.00 308.75C848.35 311.68 848.51 311.93 851.75 313.75C854.51 315.30 854.82 315.18 858.00 315.50C860.45 315.75 860.88 315.75 863.00 315.75C864.88 315.75 865.10 314.46 866.00 312.50C867.85 308.46 866.52 307.63 868.50 303.75C869.39 302.00 870.08 301.25 871.75 301.25C873.58 301.25 873.62 302.50 875.50 303.75C877.38 305.00 877.33 306.25 879.25 306.25C880.83 306.25 881.29 305.81 882.50 304.50C884.41 302.43 883.56 301.51 885.50 299.50C886.69 298.26 887.22 298.00 888.75 298.00C890.59 298.00 890.58 299.15 892.25 300.50C894.58 302.40 894.21 302.97 896.75 304.50C899.59 306.22 899.76 307.00 903.00 307.00C906.01 307.00 906.20 307.00 909.25 307.00C912.45 307.00 912.62 306.50 915.50 305.00C918.87 303.25 918.89 303.04 921.75 300.50C924.51 298.04 924.03 297.51 926.75 295.00C929.03 292.89 928.95 291.99 931.75 291.25C934.57 290.50 934.87 290.81 938.00 290.50C941.12 290.19 941.54 290.50 944.25 290.00C946.54 289.58 946.66 288.49 948.00 286.25C950.41 282.24 949.98 281.92 951.75 277.50C953.48 273.17 952.77 272.72 955.00 268.75C956.14 266.72 956.45 265.50 958.50 265.50C960.45 265.50 960.77 265.78 963.00 266.25C965.52 266.78 965.60 267.50 968.00 267.50C969.98 267.50 970.48 267.08 971.75 265.50C973.98 262.71 973.70 262.25 975.00 258.75C976.58 254.50 977.50 250.00 977.50 250.00" fill="none" stroke="#cfab48" stroke-width="1" stroke-linejoin="round"/>

<!-- crosshair -->
<line x1="62" x2="977.5" y1="167.5" y2="167.5" stroke="#c2c4c8" stroke-width="0.9" stroke-dasharray="3 1.5"/>
<line x1="977.5" x2="977.5" y1="74.6" y2="370.3" stroke="#a0a3a9" stroke-width="0.9" stroke-dasharray="3 1.5"/>
<circle cx="977.5" cy="166.7" r="3" fill="#eef1f6" stroke="#26a58c" stroke-width="1.5"/>
<circle cx="977.5" cy="250" r="3.5" fill="#eef1f6" stroke="#e2a83a" stroke-width="1.2"/>

<!-- axis pointer labels -->
<rect x="33" y="159.8" width="27.6" height="15.7" rx="2" fill="#04060b"/>
<rect x="985" y="159.5" width="25.5" height="15.5" rx="2" fill="#04060b"/>
<text x="38.75" y="169.90" font-size="9.5" font-weight="400" fill="#e6e7ea" stroke="#e6e7ea" class="med4" textLength="15.30" lengthAdjust="spacingAndGlyphs">0.01</text><text x="989.70" y="170.10" font-size="9.6" font-weight="400" fill="#e6e7ea" stroke="#e6e7ea" class="med4" textLength="16.20" lengthAdjust="spacingAndGlyphs">0.00</text><text x="942.90" y="383.00" font-size="9.4" font-weight="400" fill="#eeeff1" stroke="#eeeff1" class="med4" textLength="68.70" lengthAdjust="spacingAndGlyphs">9 Sep 2025, 11:00</text>

<!-- legend -->
<rect x="456.4" y="50.4" width="7.6" height="7.6" rx="0.8" fill="#e6b450"/>
<rect x="520.2" y="50.4" width="7.6" height="7.6" rx="0.8" fill="#2fb58b"/>
<text x="467.80" y="57.10" font-size="9.2" font-weight="400" fill="#d4d6da" stroke="#d4d6da" class="med" textLength="42.80" lengthAdjust="spacingAndGlyphs">PEPE Price</text><text x="531.70" y="57.10" font-size="9.2" font-weight="400" fill="#d4d6da" stroke="#d4d6da" class="med" textLength="50.20" lengthAdjust="spacingAndGlyphs">OI-Weighted</text>

<!-- watermark -->
<g fill="#9b9ea3">
<path d="M906.3 342.1C906.6 342.9 907.1 343.3 907.9 343.4C909.400 343 911 343 912.500 343.400C913.300 343.300 913.800 342.900 914.050 342.100C914.500 342.900 914.600 343.700 914.400 344.500C915.800 344.900 917.300 345.500 918.500 346.600C917.900 347.600 917.100 348.100 916.200 348.300C916.600 349.100 916.600 349.900 916.300 350.600C915.900 351.600 915.300 352.400 914.600 353C915.500 353.900 916 354.900 915.900 356C915.800 356.800 915.600 357.500 915.200 358L914 360.700L910.800 360.700L910.500 358.900C910.300 358.600 910 358.600 909.800 358.900L909.400 360.700L906.300 360.700L905.300 358C904.900 357.400 904.700 356.700 904.700 356C904.700 354.900 905 353.900 905.700 353C905 352.400 904.400 351.600 904 350.600C903.700 349.900 903.800 349.100 904.100 348.300C903.200 348.100 902.500 347.600 901.900 346.600C903.100 345.500 904.600 344.900 906 344.500C905.800 343.700 905.900 342.900 906.300 342.100Z"/>
<text x="922.50" y="355.30" font-size="13.2" font-weight="700" fill="#9b9ea3" textLength="52.90" lengthAdjust="spacingAndGlyphs">coinglass</text>
</g>

<!-- data zoom -->
<clipPath id="win"><rect x="807.75" y="385.25" width="176" height="44.25"/></clipPath>
<path d="M64.25 418.50L77.50 417.50L81.25 419.50L90.00 418.00L100.00 416.50L115.00 417.50L122.50 415.50L130.00 413.00L136.25 413.50L142.50 416.00L152.50 418.00L162.50 416.00L167.50 416.75L172.50 419.25L180.00 417.50L186.25 418.50L190.00 421.00L195.00 419.50L200.00 420.50L205.00 418.50L215.00 418.00L222.50 416.75L232.50 417.50L240.00 418.00L252.50 417.50L265.00 415.50L272.50 412.00L280.00 413.00L287.50 411.00L296.00 412.60L306.00 412.00L316.00 412.50L326.00 414.00L336.00 415.50L346.00 415.00L349.00 412.50L352.25 406.25L355.50 402.50L359.75 400.50L363.50 399.50L366.50 398.75L369.75 396.25L372.25 398.75L377.25 397.00L382.25 398.75L387.25 400.00L391.00 399.50L394.75 402.50L398.50 402.50L402.25 397.50L406.00 400.00L411.00 401.25L416.00 398.75L421.00 397.00L424.75 393.00L428.50 397.50L433.50 398.75L438.50 400.50L441.00 397.00L446.00 398.00L452.25 398.75L456.00 396.25L459.75 400.00L463.50 402.50L466.00 405.50L471.00 404.50L478.50 404.25L483.50 402.00L488.50 403.00L492.25 405.00L496.00 407.50L501.00 405.50L508.50 404.50L513.50 404.25L517.25 401.25L523.50 400.00L527.25 402.50L532.25 406.25L534.75 407.50L539.75 406.25L546.00 405.75L549.75 405.50L552.00 407.00L557.00 408.75L563.25 408.00L569.50 408.75L575.75 410.50L581.50 413.00L585.75 412.00L589.50 409.50L595.75 409.50L602.00 411.50L609.50 411.25L615.75 410.00L619.00 408.25L623.25 410.50L628.25 412.00L632.00 410.50L635.75 407.50L639.50 410.00L644.50 410.75L652.00 410.00L659.50 409.25L667.00 408.25L672.00 405.75L675.75 402.00L682.00 403.00L688.25 402.50L692.00 401.75L696.50 403.00L700.75 400.50L705.75 398.75L712.00 398.25L717.00 399.50L722.00 397.50L727.00 396.50L732.00 398.00L736.50 397.00L740.75 400.50L744.50 402.50L748.25 404.25L752.00 402.50L758.25 402.00L763.25 401.25L767.00 403.20L772.00 404.60L780.00 405.60L785.00 407.20L790.00 409.00L796.00 408.40L803.00 407.50L815.00 407.75L820.00 405.60L825.00 402.50L829.00 402.50L833.00 403.75L839.00 405.90L843.00 403.10L849.00 402.75L853.00 405.60L858.00 407.25L866.00 405.60L871.00 406.90L880.00 409.00L888.00 408.50L892.00 407.50L895.00 405.00L900.00 405.60L905.00 406.90L910.00 409.60L918.00 409.00L926.00 409.00L930.00 410.00L937.00 409.40L945.00 410.60L952.00 409.75L960.00 410.60L968.00 410.25L975.00 410.00L983.75 409.40L983.75 429.5 L64.25 429.5 Z" fill="#090f1f"/>
<path d="M64.25 418.50L77.50 417.50L81.25 419.50L90.00 418.00L100.00 416.50L115.00 417.50L122.50 415.50L130.00 413.00L136.25 413.50L142.50 416.00L152.50 418.00L162.50 416.00L167.50 416.75L172.50 419.25L180.00 417.50L186.25 418.50L190.00 421.00L195.00 419.50L200.00 420.50L205.00 418.50L215.00 418.00L222.50 416.75L232.50 417.50L240.00 418.00L252.50 417.50L265.00 415.50L272.50 412.00L280.00 413.00L287.50 411.00L296.00 412.60L306.00 412.00L316.00 412.50L326.00 414.00L336.00 415.50L346.00 415.00L349.00 412.50L352.25 406.25L355.50 402.50L359.75 400.50L363.50 399.50L366.50 398.75L369.75 396.25L372.25 398.75L377.25 397.00L382.25 398.75L387.25 400.00L391.00 399.50L394.75 402.50L398.50 402.50L402.25 397.50L406.00 400.00L411.00 401.25L416.00 398.75L421.00 397.00L424.75 393.00L428.50 397.50L433.50 398.75L438.50 400.50L441.00 397.00L446.00 398.00L452.25 398.75L456.00 396.25L459.75 400.00L463.50 402.50L466.00 405.50L471.00 404.50L478.50 404.25L483.50 402.00L488.50 403.00L492.25 405.00L496.00 407.50L501.00 405.50L508.50 404.50L513.50 404.25L517.25 401.25L523.50 400.00L527.25 402.50L532.25 406.25L534.75 407.50L539.75 406.25L546.00 405.75L549.75 405.50L552.00 407.00L557.00 408.75L563.25 408.00L569.50 408.75L575.75 410.50L581.50 413.00L585.75 412.00L589.50 409.50L595.75 409.50L602.00 411.50L609.50 411.25L615.75 410.00L619.00 408.25L623.25 410.50L628.25 412.00L632.00 410.50L635.75 407.50L639.50 410.00L644.50 410.75L652.00 410.00L659.50 409.25L667.00 408.25L672.00 405.75L675.75 402.00L682.00 403.00L688.25 402.50L692.00 401.75L696.50 403.00L700.75 400.50L705.75 398.75L712.00 398.25L717.00 399.50L722.00 397.50L727.00 396.50L732.00 398.00L736.50 397.00L740.75 400.50L744.50 402.50L748.25 404.25L752.00 402.50L758.25 402.00L763.25 401.25L767.00 403.20L772.00 404.60L780.00 405.60L785.00 407.20L790.00 409.00L796.00 408.40L803.00 407.50L815.00 407.75L820.00 405.60L825.00 402.50L829.00 402.50L833.00 403.75L839.00 405.90L843.00 403.10L849.00 402.75L853.00 405.60L858.00 407.25L866.00 405.60L871.00 406.90L880.00 409.00L888.00 408.50L892.00 407.50L895.00 405.00L900.00 405.60L905.00 406.90L910.00 409.60L918.00 409.00L926.00 409.00L930.00 410.00L937.00 409.40L945.00 410.60L952.00 409.75L960.00 410.60L968.00 410.25L975.00 410.00L983.75 409.40" fill="none" stroke="#1c3160" stroke-width="1" stroke-linejoin="round"/>
<rect x="807.75" y="385.25" width="176" height="44.25" fill="#070b19"/>
<g clip-path="url(#win)">
<path d="M64.25 418.50L77.50 417.50L81.25 419.50L90.00 418.00L100.00 416.50L115.00 417.50L122.50 415.50L130.00 413.00L136.25 413.50L142.50 416.00L152.50 418.00L162.50 416.00L167.50 416.75L172.50 419.25L180.00 417.50L186.25 418.50L190.00 421.00L195.00 419.50L200.00 420.50L205.00 418.50L215.00 418.00L222.50 416.75L232.50 417.50L240.00 418.00L252.50 417.50L265.00 415.50L272.50 412.00L280.00 413.00L287.50 411.00L296.00 412.60L306.00 412.00L316.00 412.50L326.00 414.00L336.00 415.50L346.00 415.00L349.00 412.50L352.25 406.25L355.50 402.50L359.75 400.50L363.50 399.50L366.50 398.75L369.75 396.25L372.25 398.75L377.25 397.00L382.25 398.75L387.25 400.00L391.00 399.50L394.75 402.50L398.50 402.50L402.25 397.50L406.00 400.00L411.00 401.25L416.00 398.75L421.00 397.00L424.75 393.00L428.50 397.50L433.50 398.75L438.50 400.50L441.00 397.00L446.00 398.00L452.25 398.75L456.00 396.25L459.75 400.00L463.50 402.50L466.00 405.50L471.00 404.50L478.50 404.25L483.50 402.00L488.50 403.00L492.25 405.00L496.00 407.50L501.00 405.50L508.50 404.50L513.50 404.25L517.25 401.25L523.50 400.00L527.25 402.50L532.25 406.25L534.75 407.50L539.75 406.25L546.00 405.75L549.75 405.50L552.00 407.00L557.00 408.75L563.25 408.00L569.50 408.75L575.75 410.50L581.50 413.00L585.75 412.00L589.50 409.50L595.75 409.50L602.00 411.50L609.50 411.25L615.75 410.00L619.00 408.25L623.25 410.50L628.25 412.00L632.00 410.50L635.75 407.50L639.50 410.00L644.50 410.75L652.00 410.00L659.50 409.25L667.00 408.25L672.00 405.75L675.75 402.00L682.00 403.00L688.25 402.50L692.00 401.75L696.50 403.00L700.75 400.50L705.75 398.75L712.00 398.25L717.00 399.50L722.00 397.50L727.00 396.50L732.00 398.00L736.50 397.00L740.75 400.50L744.50 402.50L748.25 404.25L752.00 402.50L758.25 402.00L763.25 401.25L767.00 403.20L772.00 404.60L780.00 405.60L785.00 407.20L790.00 409.00L796.00 408.40L803.00 407.50L815.00 407.75L820.00 405.60L825.00 402.50L829.00 402.50L833.00 403.75L839.00 405.90L843.00 403.10L849.00 402.75L853.00 405.60L858.00 407.25L866.00 405.60L871.00 406.90L880.00 409.00L888.00 408.50L892.00 407.50L895.00 405.00L900.00 405.60L905.00 406.90L910.00 409.60L918.00 409.00L926.00 409.00L930.00 410.00L937.00 409.40L945.00 410.60L952.00 409.75L960.00 410.60L968.00 410.25L975.00 410.00L983.75 409.40L983.75 429.5 L64.25 429.5 Z" fill="#1d2747"/>
<path d="M64.25 418.50L77.50 417.50L81.25 419.50L90.00 418.00L100.00 416.50L115.00 417.50L122.50 415.50L130.00 413.00L136.25 413.50L142.50 416.00L152.50 418.00L162.50 416.00L167.50 416.75L172.50 419.25L180.00 417.50L186.25 418.50L190.00 421.00L195.00 419.50L200.00 420.50L205.00 418.50L215.00 418.00L222.50 416.75L232.50 417.50L240.00 418.00L252.50 417.50L265.00 415.50L272.50 412.00L280.00 413.00L287.50 411.00L296.00 412.60L306.00 412.00L316.00 412.50L326.00 414.00L336.00 415.50L346.00 415.00L349.00 412.50L352.25 406.25L355.50 402.50L359.75 400.50L363.50 399.50L366.50 398.75L369.75 396.25L372.25 398.75L377.25 397.00L382.25 398.75L387.25 400.00L391.00 399.50L394.75 402.50L398.50 402.50L402.25 397.50L406.00 400.00L411.00 401.25L416.00 398.75L421.00 397.00L424.75 393.00L428.50 397.50L433.50 398.75L438.50 400.50L441.00 397.00L446.00 398.00L452.25 398.75L456.00 396.25L459.75 400.00L463.50 402.50L466.00 405.50L471.00 404.50L478.50 404.25L483.50 402.00L488.50 403.00L492.25 405.00L496.00 407.50L501.00 405.50L508.50 404.50L513.50 404.25L517.25 401.25L523.50 400.00L527.25 402.50L532.25 406.25L534.75 407.50L539.75 406.25L546.00 405.75L549.75 405.50L552.00 407.00L557.00 408.75L563.25 408.00L569.50 408.75L575.75 410.50L581.50 413.00L585.75 412.00L589.50 409.50L595.75 409.50L602.00 411.50L609.50 411.25L615.75 410.00L619.00 408.25L623.25 410.50L628.25 412.00L632.00 410.50L635.75 407.50L639.50 410.00L644.50 410.75L652.00 410.00L659.50 409.25L667.00 408.25L672.00 405.75L675.75 402.00L682.00 403.00L688.25 402.50L692.00 401.75L696.50 403.00L700.75 400.50L705.75 398.75L712.00 398.25L717.00 399.50L722.00 397.50L727.00 396.50L732.00 398.00L736.50 397.00L740.75 400.50L744.50 402.50L748.25 404.25L752.00 402.50L758.25 402.00L763.25 401.25L767.00 403.20L772.00 404.60L780.00 405.60L785.00 407.20L790.00 409.00L796.00 408.40L803.00 407.50L815.00 407.75L820.00 405.60L825.00 402.50L829.00 402.50L833.00 403.75L839.00 405.90L843.00 403.10L849.00 402.75L853.00 405.60L858.00 407.25L866.00 405.60L871.00 406.90L880.00 409.00L888.00 408.50L892.00 407.50L895.00 405.00L900.00 405.60L905.00 406.90L910.00 409.60L918.00 409.00L926.00 409.00L930.00 410.00L937.00 409.40L945.00 410.60L952.00 409.75L960.00 410.60L968.00 410.25L975.00 410.00L983.75 409.40" fill="none" stroke="#4a5674" stroke-width="1" stroke-linejoin="round"/>
</g>
<rect x="803.25" y="402.4" width="10.2" height="11.8" rx="2.8" fill="#363b4d"/>
<rect x="978.1" y="402.4" width="10.2" height="11.8" rx="2.8" fill="#363b4d"/>
<path d="M807.3 406v4.600M809.500 406v4.600M982.100 406v4.600M984.300 406v4.600" stroke="#9399a9" stroke-width="0.9" fill="none"/>

<!-- tooltip -->
<rect x="806" y="182.5" width="153" height="74.5" rx="4.5" fill="#000" opacity="0.35" transform="translate(0 1)"/>
<rect x="806" y="182.5" width="153" height="74.5" rx="4.5" fill="#04060b"/>
<circle cx="821" cy="225.5" r="2.75" fill="#e8ac3c" stroke="#dcdfe4" stroke-width="1.4"/>
<circle cx="821" cy="241.700" r="2.75" fill="#2fb58b" stroke="#dcdfe4" stroke-width="1.4"/>
<text x="818.00" y="206.10" font-size="12" font-weight="400" fill="#f0f1f3" stroke="#f0f1f3" class="med" textLength="86.00" lengthAdjust="spacingAndGlyphs">9 Sep 2025, 11:00</text><text x="828.40" y="228.90" font-size="10.5" font-weight="400" fill="#cdd0d4" textLength="52.70" lengthAdjust="spacingAndGlyphs">PEPE Price</text><text x="897.10" y="228.90" font-size="10.5" font-weight="700" fill="#f0f1f3" textLength="49.30" lengthAdjust="spacingAndGlyphs">$0.000011</text><text x="828.40" y="245.10" font-size="10.5" font-weight="400" fill="#cdd0d4" textLength="61.80" lengthAdjust="spacingAndGlyphs">OI-Weighted</text><text x="906.60" y="245.10" font-size="10.5" font-weight="700" fill="#f0f1f3" textLength="41.00" lengthAdjust="spacingAndGlyphs">0.0113%</text>
</svg>
</body>
</html>
